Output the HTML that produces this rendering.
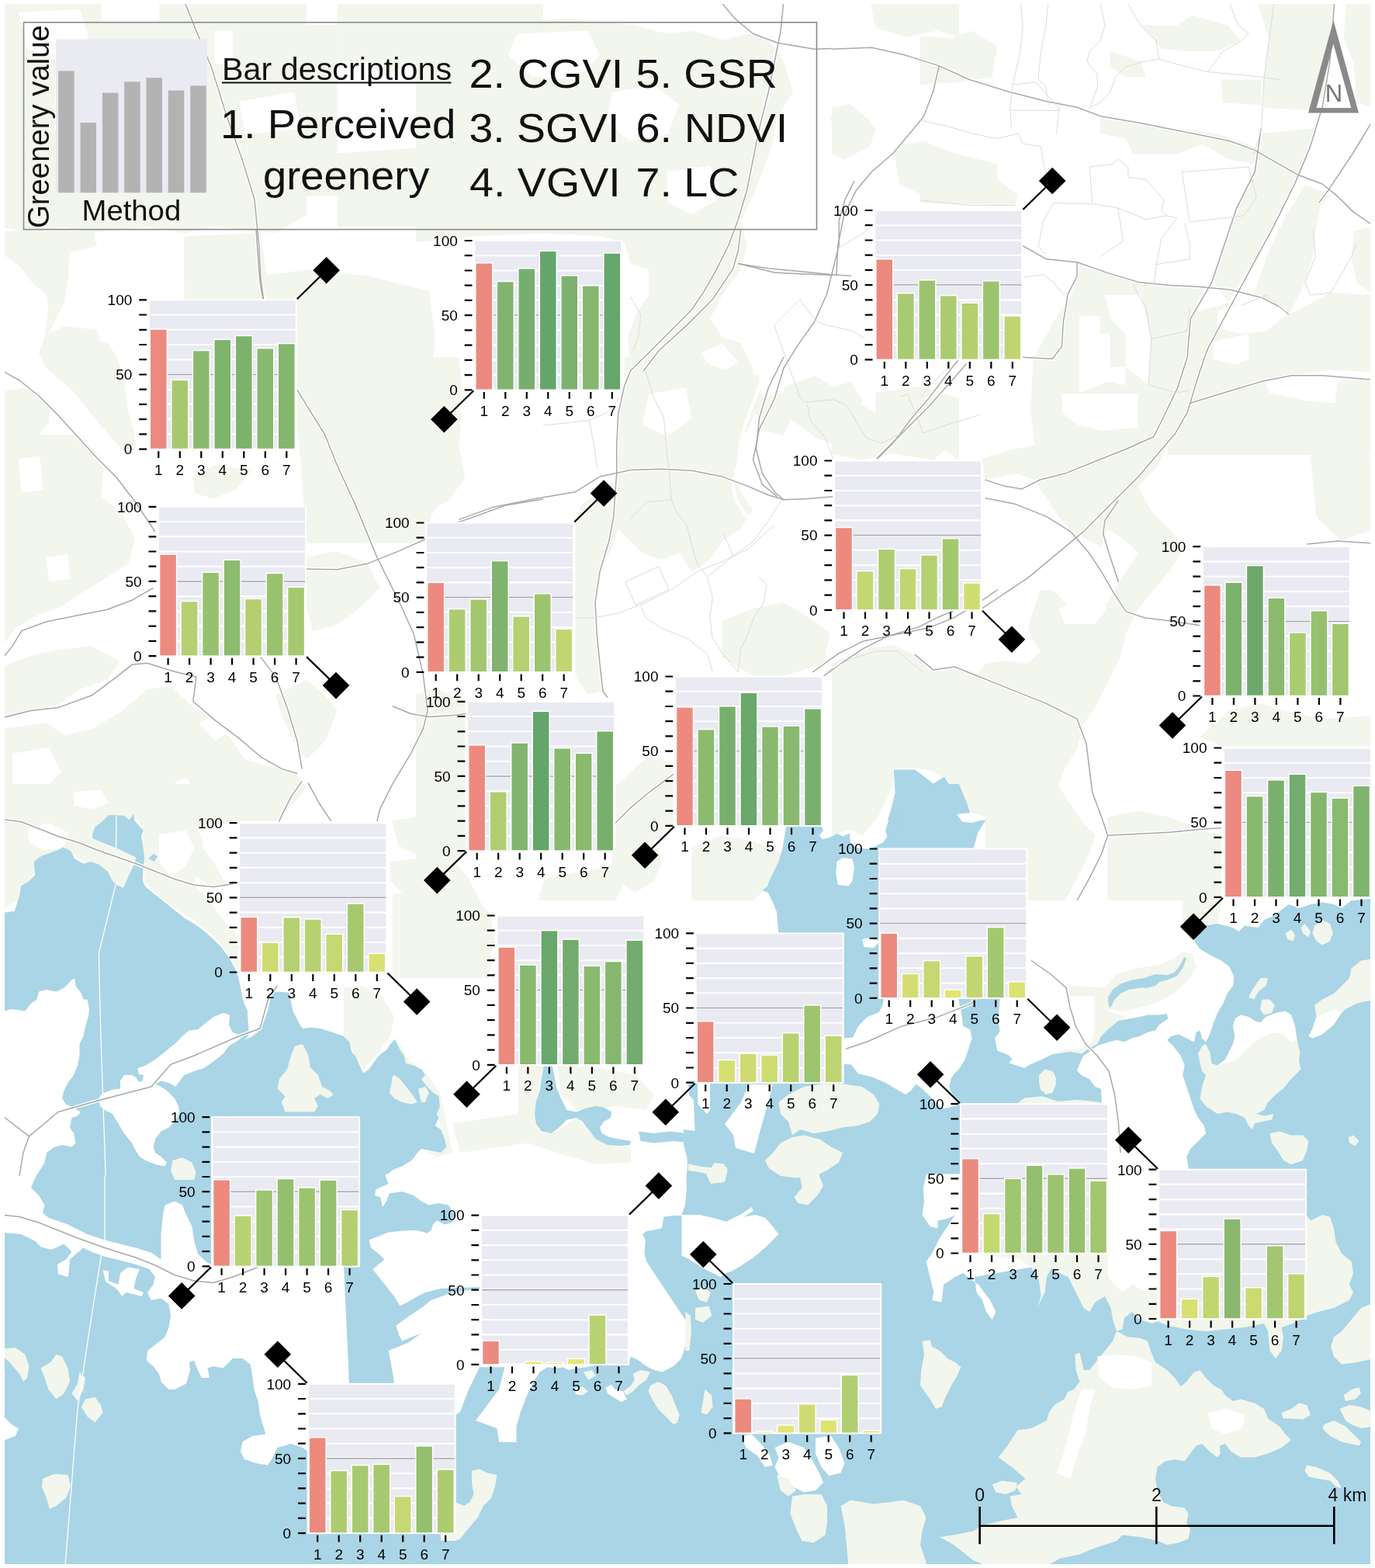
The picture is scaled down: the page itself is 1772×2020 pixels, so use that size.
<!DOCTYPE html>
<html lang="en"><head><meta charset="utf-8"><title>Greenery values by method across Helsinki</title>
<style>html,body{margin:0;padding:0;background:#fff}body{width:1772px;height:2020px;overflow:hidden}svg{display:block}.t text{font-family:"Liberation Sans",Arial,Helvetica,sans-serif;font-size:19px;fill:#000}.l{font-family:"Liberation Sans",Arial,Helvetica,sans-serif;fill:#111}.l2{font-family:"Liberation Sans",Arial,Helvetica,sans-serif}</style></head><body>
<svg xmlns="http://www.w3.org/2000/svg" width="1772" height="2020" viewBox="0 0 1772 2020">
<defs><clipPath id="mc"><rect x="6" y="5" width="1760" height="2010"/></clipPath></defs>
<rect width="1772" height="2020" fill="#fff"/>
<g clip-path="url(#mc)">
<rect x="6" y="5" width="1760" height="2010" fill="#fff"/>
<path d="M0 0L130.4 0L130.4 27.7L205.4 27.7L205.4 0L395 0L395 31.6L434.5 31.6L434.5 252.8L395 252.8L395 276.5L355.5 300.2L276.5 292.3L237 300.2L189.6 292.3L118.5 300.2L79 292.3L39.5 300.2L0 292.3Z" fill="#f2f6ec"/>
<path d="M71.1 98.8L130.4 98.8L130.4 165.9L71.1 165.9Z" fill="#ffffff"/>
<path d="M276.5 39.5L300.2 39.5L300.2 83L276.5 83Z" fill="#ffffff"/>
<path d="M308.1 130.4L379.2 118.5L387.1 165.9L316 173.8Z" fill="#ffffff"/>
<path d="M23.7 15.8L102.7 11.9L114.6 47.4L79 79L35.6 63.2Z" fill="#ffffff"/>
<path d="M434.5 0L700 0L700 79L632.1 86.9L553.1 71.1L493.8 98.8L474 79L434.5 79Z" fill="#f2f6ec"/>
<path d="M592.6 118.5L700 110.6L700 276.5L632.1 292.3L592.6 237Z" fill="#f2f6ec"/>
<path d="M434.5 197.5L553.1 189.6L572.8 237L553.1 292.3L434.5 292.3Z" fill="#f2f6ec"/>
<path d="M237 304.2L335.8 300.2L343.7 355.5L335.8 434.5L339.7 513.5L276.5 513.5L244.9 434.5L237 355.5Z" fill="#f2f6ec"/>
<path d="M335.8 355.5L395 347.6L474 355.5L553.1 375.3L561 434.5L553.1 513.5L561 592.6L553.1 700L395 700L387.1 592.6L379.2 513.5L343.7 513.5Z" fill="#f2f6ec"/>
<path d="M0 297.5L120 297.5L125 317.5L90 325L87.5 362.5L82.5 390L70 415L62.5 430L82.5 420L125 425L130 440L140 442.5L150 460L160 487.5L165 530L172.5 555L175 577.5L165 587.5L140 560L115 530L95 505L75 487.5L60 475L50 455L57.5 435L62.5 395L60 380L40 362.5L25 342.5L0 325Z" fill="#f2f6ec"/>
<path d="M0 505L30 500L50 505L65 525L62.5 545L52.5 555L50 580L65 592.5L75 612.5L82.5 630L75 650L50 655L25 650L0 655Z" fill="#f2f6ec"/>
<path d="M0 670L25 680L50 690L70 705L75 730L65 755L45 767.5L25 755L0 742.5Z" fill="#f2f6ec"/>
<path d="M385 405L443 400L443 505L425 492.5L400 497.5L385 480Z" fill="#f2f6ec"/>
<path d="M237.5 350L265 345L325 375L365 370L380 385L375 387.5L237.5 387.5Z" fill="#f2f6ec"/>
<path d="M250 612.5L275 600L325 605L305 630L275 642.5L250 635Z" fill="#f2f6ec"/>
<path d="M95 630L125 625L130 640L100 647.5Z" fill="#f2f6ec"/>
<path d="M536 39.5L559.7 31.6L595.3 43.5L626.9 35.6L666.4 27.7L733.5 23.7L812.5 31.6L859.9 43.5L891.5 39.5L931 51.4L966.6 43.5L990.3 51.4L1010 79L1021.9 118.5L1002.1 150.1L994.2 189.6L982.4 221.2L970.5 252.8L954.7 284.4L962.6 316L954.7 347.6L931 379.2L915.2 410.8L931 434.5L954.7 442.4L970.5 474L966.6 513.5L954.7 553.1L931 584.7L899.4 592.6L891.5 561L875.7 525.4L852 509.6L828.3 485.9L812.5 466.1L808.6 434.5L820.4 402.9L836.2 379.2L836.2 347.6L812.5 339.7L804.6 312.1L773 304.2L694 300.2L615 304.2L536 312.1Z" fill="#f2f6ec"/>
<path d="M903.4 454.3L931 442.4L950.8 466.1L923.1 485.9Z" fill="#ffffff"/>
<path d="M666.4 43.5L757.2 39.5L773 71.1L741.4 102.7L686.1 98.8L654.5 71.1Z" fill="#ffffff"/>
<path d="M788.8 118.5L844.1 110.6L875.7 134.3L859.9 173.8L812.5 181.7L780.9 158Z" fill="#ffffff"/>
<path d="M859.9 221.2L915.2 213.3L931 252.8L891.5 276.5L859.9 260.7Z" fill="#ffffff"/>
<path d="M1120.7 0L1236 0L1236 47.4L1207.6 39.5L1168.1 47.4L1128.6 35.6Z" fill="#f2f6ec"/>
<path d="M1069.3 150.1L1108.8 146.2L1128.6 165.9L1120.7 189.6L1081.2 185.7Z" fill="#f2f6ec"/>
<path d="M536 513.5L575.5 509.6L595.3 533.3L591.3 572.8L599.2 616.3L575.5 647.9L536 655.8Z" fill="#f2f6ec"/>
<path d="M970.5 513.5L1010 505.6L1021.9 533.3L1010 561L978.4 553.1Z" fill="#f2f6ec"/>
<path d="M1128.6 505.6L1187.8 497.7L1236 513.5L1236 592.6L1207.6 572.8L1168.1 584.7L1128.6 553.1Z" fill="#f2f6ec"/>
<path d="M1151 189.6L1190.5 181.7L1230 197.5L1277.4 209.4L1285.3 237L1269.5 252.8L1230 244.9L1190.5 252.8L1158.9 237Z" fill="#f2f6ec"/>
<path d="M1072 138.3L1095.7 134.3L1123.4 158L1119.4 189.6L1087.8 205.4L1072 197.5Z" fill="#f2f6ec"/>
<path d="M1072 513.5L1111.5 521.5L1151 545.2L1202.4 553.1L1230 568.9L1202.4 592.6L1151 584.7L1111.5 592.6L1072 584.7Z" fill="#f2f6ec"/>
<path d="M1186 46.3L1225.7 49.6L1252.1 39.7L1285.2 59.5L1278.6 99.2L1235.6 105.8L1186 109.1Z" fill="#f2f6ec"/>
<path d="M1186 211.6L1235.6 205L1285.2 211.6L1285.2 231.5L1311.7 251.3L1308.4 264.6L1186 261.3Z" fill="#f2f6ec"/>
<path d="M1430.7 66.1L1470.4 79.4L1477 99.2L1450.6 99.2L1430.7 86Z" fill="#f2f6ec"/>
<path d="M1470.4 33.1L1516.7 33.1L1536.5 19.8L1582.8 33.1L1599.4 52.9L1566.3 66.1L1533.2 66.1L1496.9 62.8L1483.6 46.3Z" fill="#f2f6ec"/>
<path d="M1619.2 0L1718.4 0L1715.1 66.1L1708.5 115.7L1695.3 142.2L1629.1 138.9L1629.1 99.2L1635.8 49.6Z" fill="#f2f6ec"/>
<path d="M1572.9 102.5L1625.8 102.5L1625.8 135.6L1576.2 132.3Z" fill="#f2f6ec"/>
<path d="M1417.5 148.8L1450.6 155.4L1516.7 165.3L1566.3 172L1599.4 181.9L1625.8 195.1L1615.9 211.6L1582.8 205L1549.8 185.2L1516.7 198.4L1460.5 198.4L1450.6 178.6L1417.5 172Z" fill="#f2f6ec"/>
<path d="M1735 0L1772 0L1772 138.9L1748.2 132.3L1744.9 82.7L1731.7 49.6Z" fill="#f2f6ec"/>
<path d="M1625.8 172L1695.3 165.3L1678.7 211.6L1658.9 257.9L1632.4 304.2L1606 350.5L1582.8 390.2L1559.7 357.2L1572.9 327.4L1592.8 274.5L1609.3 238.1L1619.2 198.4Z" fill="#f2f6ec"/>
<path d="M1682 238.1L1715.1 251.3L1701.9 264.6L1695.3 297.6L1692 330.7L1682 363.8L1662.2 403.5L1642.4 390.2L1615.9 380.3L1632.4 330.7L1655.6 281.1Z" fill="#f2f6ec"/>
<path d="M1384.4 340.6L1417.5 350.5L1450.6 360.5L1516.7 365.4L1556.4 367.1L1546.5 380.3L1536.5 403.5L1533.2 463L1529.9 496L1516.7 529.1L1503.5 562.2L1496.9 586L1334.8 586L1328.2 529.1L1331.5 463L1358 413.4L1381.1 380.3L1387.7 350.5Z" fill="#f2f6ec"/>
<path d="M1391 406.8L1417.5 406.8L1417.5 429.9L1430.7 429.9L1430.7 472.9L1450.6 472.9L1450.6 529.1L1424.1 535.7L1391 529.1Z" fill="#ffffff"/>
<path d="M1424.1 380.3L1470.4 380.3L1483.6 436.5L1480.3 496L1450.6 472.9L1450.6 429.9L1430.7 410.1Z" fill="#ffffff"/>
<path d="M1536.5 403.5L1582.8 390.2L1662.2 405.1L1715.1 377L1772 380.3L1772 479.5L1715.1 476.2L1629.1 489.4L1635.8 506L1682 515.9L1748.2 522.5L1772 529.1L1772 586L1503.5 586L1516.7 529.1L1529.9 496L1533.2 429.9Z" fill="#f2f6ec"/>
<path d="M1563 439.8L1609.3 429.9L1609.3 463L1592.8 469.6L1563 463Z" fill="#ffffff"/>
<path d="M1569.6 400.1L1632.4 385.3L1658.9 405.1L1632.4 426.6L1599.4 429.9L1569.6 423.3Z" fill="#ffffff"/>
<path d="M1744.9 297.6L1772 291L1772 380.3L1748.2 363.8L1741.6 330.7Z" fill="#f2f6ec"/>
<path d="M0 560L102.7 560L134.3 595.6L130.4 639L158 662.7L173.8 694.3L165.9 725.9L134.3 745.7L102.7 765.4L79 781.2L47.4 793.1L19.8 808.9L0 836.5Z" fill="#f2f6ec"/>
<path d="M23.7 591.6L51.4 587.7L55.3 631.1L27.7 635.1Z" fill="#ffffff"/>
<path d="M59.3 718L86.9 714.1L90.9 745.7L63.2 749.6Z" fill="#ffffff"/>
<path d="M0 860.2L39.5 844.4L79 836.5L118.5 832.6L154.1 852.3L138.3 876L102.7 887.9L75.1 907.6L47.4 915.5L0 923.4Z" fill="#f2f6ec"/>
<path d="M0 939.2L59.3 931.3L83 947.1L118.5 939.2L158 915.5L189.6 887.9L221.2 883.9L244.9 907.6L276.5 927.4L300.2 955L316 978.7L343.7 986.6L379.2 994.5L395 1014.3L379.2 1034L355.5 1057.7L308.1 1057.7L276.5 1065.6L237 1073.5L205.4 1057.7L185.7 1049.8L173.8 1057.7L150.1 1049.8L130.4 1057.7L118.5 1073.5L94.8 1089.4L79 1093.3L51.4 1109.1L39.5 1132.8L19.8 1152.6L0 1168.4Z" fill="#f2f6ec"/>
<path d="M225.2 1006.4L241 1002.4L248.9 1018.2L233.1 1026.1Z" fill="#ffffff"/>
<path d="M256.8 931.3L284.4 915.5L300.2 939.2L276.5 955Z" fill="#ffffff"/>
<path d="M15.8 970.8L63.2 962.9L79 994.5L47.4 1026.1L15.8 1018.2Z" fill="#ffffff"/>
<path d="M355.5 895.8L395 876L418.7 895.8L434.5 915.5L418.7 955L395 978.7L379.2 955L363.4 923.4Z" fill="#f2f6ec"/>
<path d="M395 718L434.5 710.1L474 725.9L489.8 757.5L466.1 781.2L434.5 804.9L402.9 812.8L395 781.2Z" fill="#f2f6ec"/>
<path d="M505.6 1057.7L553.1 1049.8L600.5 1053.8L600.5 1097.3L580.7 1113.1L545.2 1105.2L513.5 1089.4Z" fill="#f2f6ec"/>
<path d="M505.6 1152.6L553.1 1144.7L608.4 1152.6L632.1 1176.3L632.1 1260L505.6 1260Z" fill="#f2f6ec"/>
<path d="M410.8 560L493.8 560L513.5 599.5L493.8 639L434.5 646.9L395 623.2Z" fill="#f2f6ec"/>
<path d="M197.5 1073.5L252.8 1081.5L276.5 1113.1L292.3 1140.7L276.5 1144.7L252.8 1128.9L221.2 1113.1L197.5 1105.2Z" fill="#f2f6ec"/>
<path d="M804.6 460L891.5 460L931 475.8L978.4 483.7L982.4 515.3L970.5 539L954.7 570.6L946.8 610.1L954.7 633.8L970.5 657.5L954.7 681.2L931 697L915.2 720.7L891.5 736.5L875.7 712.8L852 720.7L828.3 712.8L812.5 697L796.7 681.2L788.8 704.9L773 736.5L765.1 776L769.1 815.5L773 855L777 890.6L757.2 894.5L741.4 870.8L741.4 776L741.4 673.3L749.3 649.6L773 633.8L792.8 618L796.7 578.5L796.7 539L804.6 499.5Z" fill="#f2f6ec"/>
<path d="M836.2 507.4L883.6 499.5L891.5 539L859.9 562.7L828.3 546.9Z" fill="#ffffff"/>
<path d="M536 460L591.3 460L595.3 499.5L587.4 554.8L567.6 590.4L567.6 649.6L547.9 673.3L536 673.3Z" fill="#f2f6ec"/>
<path d="M1010 499.5L1049.5 483.7L1089.1 507.4L1128.6 539L1120.7 570.6L1089.1 578.5L1049.5 562.7L1017.9 539Z" fill="#f2f6ec"/>
<path d="M931 799.7L970.5 783.9L1010 776L1049.5 799.7L1069.3 815.5L1061.4 855L1010 870.8L970.5 870.8L931 847.1Z" fill="#f2f6ec"/>
<path d="M536 894.5L559.7 886.6L599.2 902.4L599.2 1052.6L575.5 1076.3L551.8 1100L536 1111.8Z" fill="#f2f6ec"/>
<path d="M792.8 1013.1L836.2 973.5L867.8 985.4L867.8 1060.5L836.2 1092.1L812.5 1123.7L792.8 1160L694 1160L701.9 1131.6L788.8 1115.8Z" fill="#f2f6ec"/>
<path d="M891.5 1092.1L931 1076.3L970.5 1084.2L1010 1100L1002.1 1131.6L970.5 1160L891.5 1160Z" fill="#f2f6ec"/>
<path d="M1072 855L1111.5 835.3L1151 831.3L1178.7 843.2L1202.4 862.9L1230 859L1261.6 866.9L1269.5 855L1293.2 851.1L1324.8 855L1332.7 831.3L1324.8 807.6L1332.7 783.9L1340.6 760.2L1356.4 760.2L1372.2 776L1380.1 799.7L1411.7 791.8L1427.5 776L1435.4 760.2L1451.2 736.5L1467 712.8L1451.2 697L1427.5 681.2L1419.6 704.9L1388 689.1L1364.3 665.4L1348.5 641.7L1332.7 618L1309 610.1L1269.5 618L1265.6 590.4L1309 578.5L1348.5 570.6L1372.2 539L1388 507.4L1427.5 491.6L1467 499.5L1506.5 483.7L1526.3 507.4L1530.2 539L1506.5 570.6L1490.7 602.2L1467 625.9L1482.8 657.5L1506.5 681.2L1526.3 704.9L1506.5 736.5L1486.8 760.2L1467 783.9L1451.2 815.5L1443.3 847.1L1427.5 878.7L1411.7 910.3L1395.9 934L1388 965.6L1372.2 989.4L1364.3 1013.1L1380.1 1036.8L1395.9 1060.5L1411.7 1076.3L1403.8 1100L1388 1131.6L1372.2 1160L1277.4 1160L1269.5 1092.1L1269.5 1052.6L1245.8 1044.7L1230 1028.9L1222.1 1005.2L1202.4 993.3L1178.7 989.4L1151 989.4L1151 1013.1L1131.3 1052.6L1111.5 1076.3L1095.7 1068.4L1072 1076.3Z" fill="#f2f6ec"/>
<path d="M1305.1 748.4L1320.9 748.4L1320.9 807.6L1340.6 839.2L1324.8 855L1293.2 851.1L1261.6 855L1265.6 831.3L1293.2 815.5Z" fill="#ffffff"/>
<path d="M1364.3 783.9L1411.7 768.1L1427.5 783.9L1411.7 803.7L1372.2 803.7Z" fill="#ffffff"/>
<path d="M1368.3 507.4L1467 507.4L1467 550.9L1419.6 554.8L1388 546.9L1368.3 531.1Z" fill="#ffffff"/>
<path d="M1585.5 914.3L1625.1 906.4L1664.6 918.2L1704.1 926.1L1772 922.2L1772 961.7L1577.6 961.7L1546 949.8Z" fill="#f2f6ec"/>
<path d="M1427.5 1052.6L1467 1044.7L1506.5 1052.6L1546 1068.4L1573.7 1076.3L1573.7 1160L1427.5 1160Z" fill="#f2f6ec"/>
<path d="M1072 499.5L1095.7 491.6L1111.5 515.3L1103.6 539L1072 546.9Z" fill="#f2f6ec"/>
<path d="M1723.8 491.6L1772 483.7L1772 539L1743.6 546.9L1719.9 523.2Z" fill="#f2f6ec"/>
<path d="M1546 483.7L1585.5 475.8L1625.1 491.6L1633 519.3L1605.3 539L1565.8 531.1Z" fill="#f2f6ec"/>
<path d="M1688.3 578.5L1743.6 570.6L1772 594.3L1772 681.2L1727.8 697L1696.2 665.4Z" fill="#f2f6ec"/>
<path d="M0 1010L310 1010L310 1055L250 1060L262.5 1085L255 1115L250 1140L270 1160L287.5 1185L310 1210L310 1255L300 1235L275 1205L250 1185L225 1170L200 1150L186.2 1135L186.2 1105L185 1070L172.5 1047.5L140 1047.5L120 1075L150 1092.5L175 1105L165 1130L157.5 1145L145 1135L138.8 1120L107.5 1110L81.2 1090L53.8 1100L42.5 1110L42.5 1127.5L25 1140L22.5 1160L0 1175L0 1175Z" fill="#f2f6ec"/>
<path d="M35 1067.5L62.5 1060L87.5 1072.5L82.5 1092.5L55 1095L37.5 1085Z" fill="#ffffff"/>
<path d="M205 1075L240 1070L250 1092.5L240 1115L220 1130L205 1110Z" fill="#ffffff"/>
<path d="M95 1020L130 1017.5L140 1035L117.5 1042.5L95 1037.5Z" fill="#ffffff"/>
<path d="M503 1110L543 1105L583 1107.5L603 1130L618 1160L633 1185L638 1215L628 1235L603 1250L583 1260L563 1255L548 1235L543 1210L548 1185L543 1160L518 1150L503 1135Z" fill="#f2f6ec"/>
<path d="M443 1272.5L468 1270L493 1285L508 1310L503 1335L488 1355L468 1377.5L458 1360L450.5 1342.5L443 1335Z" fill="#f2f6ec"/>
<path d="M793 1085L818 1075L843 1085L853 1110L843 1135L818 1150L798 1135L793 1110Z" fill="#f2f6ec"/>
<path d="M668 1372.5L700.5 1370L698 1390L690.5 1420L689.2 1447.5L698 1460L718 1457.5L743 1440L768 1467.5L793 1477.5L813 1477.5L813 1497.5L768 1500L718 1485L680.5 1472.5L668 1435Z" fill="#f2f6ec"/>
<path d="M583 1447.5L668 1435L680.5 1472.5L593 1485Z" fill="#f2f6ec"/>
<path d="M718 1372.5L768 1375L818 1385L843 1410L833 1430L793 1425L743 1430L723 1410Z" fill="#f2f6ec"/>
<path d="M513 1340L525.5 1365L548 1380L568 1410L578 1460L583 1485L563 1490L548 1485L573 1480L568 1455L560.5 1415L543 1390L518 1365Z" fill="#f2f6ec"/>
<path d="M1424 1300L1424 1272.5L1439 1255L1464 1247.5L1494 1242.5L1514 1235L1524 1225L1536.5 1230L1541.5 1245L1534 1260L1519 1275L1504 1285L1489 1292.5L1469 1297.5L1449 1302.5Z" fill="#f2f6ec"/>
<path d="M1379 1270L1424 1272.5L1424 1300L1434 1305L1454 1310L1441.5 1315L1429 1325L1419 1335L1414 1345L1404 1350L1394 1357.5L1379 1355L1361.5 1357.5L1344 1360L1329 1362.5L1329 1335L1354 1330L1374 1310Z" fill="#f2f6ec"/>
<path d="M1524 1160L1574 1160L1569 1190L1554 1192.5L1544 1200L1539 1212.5L1529 1205L1524 1185Z" fill="#f2f6ec"/>
<path d="M954.6 339.5L961.3 366L964.6 389.1L974.5 412.3L981.1 435.4L984.4 465.2L981.1 491.6L971.2 518.1L961.3 544.6L954.6 571L951.3 597.5L944.7 623.9L948 643.8L961.3 663.6L984.4 676.8L1007.5 690.1L1030.7 709.9" fill="none" stroke="#ffffff" stroke-width="4.2" stroke-linejoin="round"/>
<path d="M0 1514L1772 1514L1772 2020L0 2020Z" fill="#a9d5e6"/>
<path d="M0 1176.2L0 1176.2L18.8 1173.8L23.8 1157.5L27.5 1141.2L37.5 1135L45 1127.5L43.8 1110L53.8 1102.5L75 1095L81.2 1091.2L91.2 1096.2L96.2 1106.2L107.5 1112.5L117.5 1110L127.5 1113.8L138.8 1122.5L145 1135L150 1140L158.8 1143.8L166.2 1127.5L173.8 1111.2L175 1104.5L150 1092.5L120 1080.5L118.8 1075.5L122.5 1065.5L132.5 1057.5L140 1050L160 1050.8L166.2 1056.2L172.5 1048.8L173 1057L185 1070L182 1077L184.5 1090L186.2 1106.2L184.5 1120L183.8 1135L187.5 1142.5L200 1152.5L212.5 1162.5L225 1172.5L237.5 1182.5L250 1190L262.5 1198.8L275 1210L285 1220L292.5 1230L298.8 1240L303.8 1250L307.5 1260L310 1272.5L312.5 1285L315.5 1295L318.8 1301.2L320 1321.2L321.2 1332.5L315 1340L325 1335L335 1327.5L342.5 1310L347.5 1292.5L350 1278.8L360 1277.5L372.5 1278.8L375 1290L377.5 1302.5L385 1317.5L390 1325L400 1323.8L412.5 1325L425 1328.8L443 1335L443 1515L0 1515Z" fill="#a9d5e6"/>
<path d="M191.2 1106.2L197.5 1100L203 1103L198.8 1110Z" fill="#a9d5e6"/>
<path d="M443 1335L450.5 1342.5L453 1355L458 1360L468 1382.5L475.5 1377.5L488 1360L498 1352.5L503 1345L509.2 1338.8L515.5 1352.5L520.5 1360L523 1370L533 1372.5L543 1377.5L548 1385L543 1390L550.5 1400L558 1407.5L565.5 1412.5L566.8 1425L563 1435L565.5 1440L560.5 1450L568 1455L573 1467.5L575.5 1477.5L568 1485L555.5 1482.5L543 1480L538 1485L530.5 1495L518 1502.5L505.5 1507.5L496.8 1515L443 1515Z" fill="#a9d5e6"/>
<path d="M700.5 1373.8L711.8 1373.8L714.2 1385L716.8 1400L723 1415L730.5 1430L743 1432.5L755.5 1427.5L768 1425L778 1426.2L788 1432.5L786.8 1440L778 1445L773 1452.5L775.5 1460L785.5 1465L798 1467.5L813 1470L811.8 1475L798 1476.2L783 1475L768 1467.5L758 1455L750.5 1445L743 1440L730.5 1442.5L720.5 1452.5L710.5 1460L698 1457.5L690.5 1447.5L689.2 1435L690.5 1420L695.5 1405L698 1390Z" fill="#a9d5e6"/>
<path d="M823 1457.5L843 1460L863 1457.5L886 1460L893 1462.5L893 1472.5L868 1470L843 1472.5L825.5 1470Z" fill="#a9d5e6"/>
<path d="M900 1390L887 1397L888 1411L894 1417L895.5 1457L881 1455L881 1475L882 1478L885.5 1492L886 1504L884 1517.5L1329 1517.5L1329 1335L1321 1285L1311 1160L1254.8 1093.8L1256 1080L1261 1067.5L1269.8 1056.2L1261 1057.5L1248.5 1061.2L1238.5 1060L1231 1051.2L1236 1047.5L1249.8 1047.5L1247.2 1037.5L1241 1022.5L1236 1010L1153.5 1010L1154.8 1025L1151 1042.5L1144.8 1057.5L1141 1070L1143.5 1077.5L1138.5 1085L1121 1093.8L1103.5 1092.5L1096 1085L1094.8 1073.8L1086 1077.5L1078.5 1073.8L1069.8 1078.8L1059.8 1081.2L1056 1076.2L1061 1070L1058.5 1063.8L1013.5 1063.8L1008.5 1092.5L1003.5 1110L993.5 1130L988.5 1142.5L982.2 1147L989.8 1150L996 1162.5L1001 1175L1002.2 1190L1003.5 1202.5L1003.5 1385L901 1385Z" fill="#a9d5e6"/>
<path d="M1151.6 991.6L1179.2 991.6L1195 1003.4L1202.9 1009.4L1216.8 1000.7L1226.6 1015.3L1236.5 1033.1L1246.4 1046.9L1232.6 1048.9L1240.5 1058.8L1258.2 1060.7L1270.1 1056.8L1260.2 1072.6L1254.3 1094.3L1195 1100.2L1131.8 1094.3L1139.7 1084.4L1153.6 1072.6L1163.4 1048.9L1143.7 1056.8L1147.6 1044.9L1153.6 1021.2Z" fill="#a9d5e6"/>
<path d="M1772 1157.5L1741.5 1160L1729 1170L1719 1165L1704 1162.5L1689 1165L1674 1170L1661.5 1165L1654 1170L1641.5 1180L1629 1185L1621.5 1195L1604 1192.5L1596.5 1200L1589 1195L1579 1192.5L1569 1190L1554 1192.5L1544 1200L1539 1212.5L1546.5 1222.5L1559 1230L1574 1237.5L1584 1245L1590.2 1257.5L1589 1270L1581.5 1280L1576.5 1292.5L1569 1305L1564 1317.5L1559 1332.5L1554 1342.5L1549 1337.5L1546.5 1327.5L1541.5 1330L1539 1342.5L1529 1337.5L1519 1332.5L1509 1335L1504 1340L1511.5 1347.5L1521.5 1360L1526.5 1372.5L1524 1385L1529 1400L1534 1415L1539 1430L1544 1440L1551.5 1450L1554 1460L1549 1465L1541.5 1472.5L1534 1480L1529 1490L1531.5 1505L1536.5 1515L1772 1515Z" fill="#a9d5e6"/>
<path d="M1321.5 1335L1329 1362.5L1344 1360L1361.5 1357.5L1379 1355L1394 1357.5L1404 1350L1414 1345L1419 1335L1429 1325L1441.5 1315L1454 1312.5L1469 1310L1479 1307.5L1491.5 1307.5L1504 1306.2L1505.2 1312.5L1494 1320L1489 1327.5L1479 1330L1469 1335L1459 1337.5L1449 1342.5L1439 1340L1429 1342.5L1414 1347.5L1404 1355L1396.5 1360L1391.5 1370L1389 1380L1394 1385L1404 1390L1411.5 1400L1419 1402.5L1420.2 1422.5L1420.2 1515L1321.5 1515Z" fill="#a9d5e6"/>
<path d="M1429 1297.5L1427.8 1285L1434 1275L1444 1267.5L1459 1262.5L1474 1260L1489 1255L1504 1256.2L1514 1252.5L1521.5 1242.5L1526.5 1232.5L1529 1235L1524 1247.5L1516.5 1257.5L1504 1262.5L1494 1265L1489 1270L1479 1272.5L1469 1272.5L1454 1275L1444 1280L1436.5 1287.5L1431.5 1297.5Z" fill="#a9d5e6"/>
<path d="M296.2 1307.5L287.5 1305L275 1310L262.5 1320L255 1326.2L243.8 1327.5L235 1335L225 1345L212.5 1355L200 1365L187.5 1372.5L177.5 1376.2L178.8 1383.8L185 1385L183.8 1392.5L200 1396.2L207.5 1392.5L217.5 1395L226.2 1400L237.5 1385L250 1380L262.5 1376.2L275 1367.5L287.5 1357.5L295 1347.5L307.5 1340L312.5 1335L306.2 1332.5L300 1330L295 1320Z" fill="#ffffff"/>
<path d="M130 1410L135 1407.5L145 1403.8L155 1402.5L155 1392.5L160 1385L170 1385L175 1387.5L178.8 1393.8L183.8 1392.5L200 1396.2L207.5 1400L215 1405L225 1415L230 1425L231.2 1435L225 1445L217.5 1452.5L207.5 1457.5L200 1467.5L197.5 1477.5L200 1485L207.5 1490L215 1497.5L212.5 1502.5L200 1500L187.5 1495L180 1490L175 1482.5L170 1472.5L160 1460L152.5 1447.5L145 1435L135 1430L128.8 1425L127.5 1415Z" fill="#ffffff"/>
<path d="M222.5 1495L235 1491.2L247.5 1497.5L252.5 1510L250 1520L225 1520L220 1507.5Z" fill="#f2f6ec"/>
<path d="M390 1345L397.5 1360L400 1375L410 1385L415 1400L425 1405L430 1410L422.5 1415L412.5 1410L405 1415L410 1425L405 1432.5L390 1432.5L367.5 1432.5L362.5 1420L367.5 1412.5L357.5 1402.5L360 1390L370 1377.5L375 1360L380 1347.5Z" fill="#f2f6ec"/>
<path d="M0 1303.8L0 1303.8L15 1300L25 1301.2L32.5 1302.5L40 1292.5L47.5 1287.5L50 1277.5L60 1275L72.5 1277.5L82.5 1272.5L92.5 1262.5L96.2 1260L97.5 1270L105 1280L107.5 1287.5L112.5 1287.5L115 1300L113.8 1310L110 1322.5L107.5 1335L102.5 1345L102.5 1360L100 1372.5L95 1385L87.5 1395L82.5 1405L80 1415L85 1422.5L95 1427.5L103.8 1432.5L100 1437.5L92.5 1440L90 1452.5L95 1460L97.5 1472.5L92.5 1477.5L80 1475L70 1477.5L60 1485L57.5 1497.5L50 1510L46.2 1515L46.2 1517.5L0 1517.5Z" fill="#ffffff"/>
<path d="M150 1051.2L149.5 1092.5" fill="none" stroke="#ffffff" stroke-width="1.3" stroke-linejoin="round"/>
<path d="M149 1140L127.5 1227.5L128 1260L130 1335L132.5 1410L136.2 1515" fill="none" stroke="#ffffff" stroke-width="1.3" stroke-linejoin="round"/>
<path d="M508 1385L515.5 1390L525.5 1402.5L533 1412.5L538 1420L530.5 1422.5L518 1420L508 1415L501.8 1407.5L504.2 1397.5L505.5 1387.5Z" fill="#f2f6ec"/>
<path d="M539.2 1402.5L548 1400L553 1407.5L548 1420L543 1420L540.5 1410Z" fill="#f2f6ec"/>
<path d="M0 1512.5L46.2 1512.5L46.2 1515L40 1530L50 1540L57.5 1552.5L55 1562.5L62.5 1568.8L87.5 1577.5L112.5 1590L135 1597.5L155 1602.5L175 1607.5L195 1613.8L207.5 1622.5L200 1645L192.5 1635L175 1628.8L155 1623.8L135 1618.8L117.5 1612.5L107.5 1607.5L100 1613.8L90 1622.5L88.8 1637.5L87.5 1645L75 1641.2L73.8 1628.8L85 1622.5L92.5 1612.5L82.5 1602.5L66.2 1610L52.5 1606.2L45 1598.8L27.5 1590L0 1587.5L0 1587.5Z" fill="#ffffff"/>
<path d="M132.5 1636.2L140 1637.5L140 1650L152.5 1655L155 1640L165 1632.5L180 1635L175 1647.5L172.5 1660L185 1665L182.5 1670L162.5 1665L157.5 1670L150 1660L136.2 1651.2Z" fill="#ffffff"/>
<path d="M200 1627.5L207.5 1622.5L207.5 1590L210 1565L212.5 1552.5L225 1547.5L235 1552.5L240 1565L247.5 1580L250 1597.5L255 1615L265 1625L273.8 1630L443 1630L450 1782.8L450 1890L397.5 1870L390 1865L375 1860L357.5 1865L350 1880L345 1887.5L330 1885L315 1880L310 1870L312.5 1857.5L325 1850L342.5 1847.5L340 1840L335 1822.5L332.5 1805L327.5 1790L325 1770L322.5 1757.5L312.5 1750L300 1750L287.5 1762.5L275 1760L267.5 1762.5L270 1775L260 1775L255 1765L250 1752.5L243.8 1755L245 1765L240 1782.5L225 1790L217.5 1790L207.5 1780L205 1770L197.5 1760L188.8 1752.5L190 1740L200 1732.5L212.5 1722.5L217.5 1710L220 1695L217.5 1680L207.5 1672.5L195 1675L190 1665L197.5 1655L200 1645Z" fill="#ffffff"/>
<path d="M0 1737.5L20 1736.2L32.5 1745L37.5 1760L35 1775L30 1780L25 1770L12.5 1755L0 1745Z" fill="#f2f6ec"/>
<path d="M52.5 1762.5L65 1755L72.5 1745L80 1747.5L87.5 1762.5L90 1780L82.5 1795L72.5 1802.5L62.5 1790L57.5 1775Z" fill="#f2f6ec"/>
<path d="M102.5 1767.5L110 1775L107.5 1790L100 1805L92.5 1795L100 1782.5Z" fill="#f2f6ec"/>
<path d="M110 1802.5L122.5 1800L130 1810L132.5 1820L122.5 1832.5L112.5 1825L105 1812.5Z" fill="#f2f6ec"/>
<path d="M55 1905L70 1898.8L87.5 1900L91.2 1915L85 1930L72.5 1940L63.8 1943.8L60 1930L53.8 1915Z" fill="#f2f6ec"/>
<path d="M0 1820L0 1820L15 1835L23.8 1840L20 1850L0 1857.5L0 1857.5Z" fill="#ffffff"/>
<path d="M135 1515L135 1597.5L130 1620L115 1715L100 1815L83.8 2020" fill="none" stroke="#ffffff" stroke-width="1.3" stroke-linejoin="round"/>
<path d="M496.8 1512.5L496.8 1515L500.5 1525L484.2 1532.5L483 1540L490.5 1542.5L493 1555L498 1547.5L501.8 1537.5L518 1535L533 1540L543 1547.5L553 1552.5L565.5 1550L578 1552.5L585.5 1565L583 1575L573 1577.5L563 1572.5L558 1577.5L555.5 1585L550.5 1588.8L538 1585L525.5 1585L513 1586.2L500.5 1587.5L488 1592.5L475.5 1597.5L478 1607.5L488 1615L495.5 1622.5L480.5 1635L488 1645L498 1657.5L508 1670L515.5 1682.5L525.5 1677.5L535.5 1671.2L548 1665L568 1660L593 1658.8L618 1658L618 1660L583 1665L555.5 1675L543 1685L528 1695L510.5 1707.5L514.2 1720L518 1727.5L543 1717.5L525.5 1730L500.5 1740L503 1752.5L505.5 1765L508 1782.8L586.8 1782.8L588 1822.5L593 1818.8L603 1792.5L618 1761.2L650.5 1761.2L643 1790L628 1810L613 1830L640.5 1840L643 1857.5L665.5 1858L665.5 1837.5L670.5 1820L678 1800L688 1780L695.5 1767.5L705.5 1761.2L718 1762.5L725.5 1761.2L733 1765L743 1762.5L755.5 1761.2L768 1758.8L793 1758.8L810.5 1755L813 1747.5L823 1752.5L833 1760L843 1765L853 1767.5L868 1760L878 1750L883 1735L886 1727.5L886 1705L883 1700L873 1685L863 1670L853 1655L843 1640L833 1625L830.5 1615L831.8 1597.5L828 1590L833 1586.2L853 1582.5L855.5 1567.5L868 1566L878 1566L883 1552.5L885 1530L884.5 1515L884.5 1512.5Z" fill="#ffffff"/>
<path d="M740.5 1788.8L750.5 1786.2L758 1792.5L750.5 1797.5L741.8 1796.2Z" fill="#f2f6ec"/>
<path d="M751.8 1767.5L763 1765L768 1772.5L758 1777.5Z" fill="#f2f6ec"/>
<path d="M780.5 1787.5L788 1783.8L793 1790L803 1792.5L808 1802.5L800.5 1806.2L790.5 1800L783 1795Z" fill="#ffffff"/>
<path d="M815.5 1770L825.5 1765L838 1767.5L833 1777.5L823 1785L815.5 1792.5L808 1797.5L803 1792.5L813 1785L818 1777.5Z" fill="#f2f6ec"/>
<path d="M838 1785L848 1780L858 1785L865.5 1797.5L870.5 1810L875.5 1822.5L873 1832.5L868 1835L858 1825L848 1815L840.5 1802.5L835.5 1792.5Z" fill="#f2f6ec"/>
<path d="M608 1895L618 1892.5L628 1897.5L640.5 1900L638 1915L633 1930L623 1940L615.5 1955L603 1970L593 1982.5L586.2 1985L568 1985L568 1935L586.2 1935L598 1940L605.5 1935L610.5 1925L608 1910Z" fill="#f2f6ec"/>
<path d="M878.5 1565L901 1565L918.5 1568.8L936 1573.8L956 1563.8L968.5 1555L971 1560L958.5 1567.5L973.5 1565L986 1568.8L996 1580L1003.5 1590L996 1597.5L986 1607.5L971 1620L956 1630L943.5 1637.5L936 1640L928.5 1645L907 1634.2L887 1621.5L878.5 1617.5Z" fill="#ffffff"/>
<path d="M911 1512.5L936 1512.5L936 1515L933.5 1522.5L916 1525L911 1515Z" fill="#f2f6ec"/>
<path d="M1031 1512.5L1056 1512.5L1056 1515L1061 1527.5L1053.5 1540L1041 1552.5L1028.5 1550L1023.5 1542.5L1033.5 1530L1031 1515Z" fill="#f2f6ec"/>
<path d="M896 1662.5L906 1657.5L916 1665L911 1677.5L901 1675Z" fill="#f2f6ec"/>
<path d="M896 1685L913.5 1682.5L917.2 1695L906 1703.8L896 1700Z" fill="#f2f6ec"/>
<path d="M908.5 1790L917.2 1797.5L918.5 1812.5L911 1822.5L903.5 1820L906 1805Z" fill="#f2f6ec"/>
<path d="M883.5 1690L889.8 1695L891 1715L888.5 1740L883.5 1740Z" fill="#f2f6ec"/>
<path d="M956 1850L968.5 1847.5L981 1860L991 1872.5L996 1887.5L986 1890L976 1875L961 1865Z" fill="#ffffff"/>
<path d="M998.5 1865L1016 1857.5L1036 1865L1046 1880L1056 1897.5L1061 1910L1051 1920L1036 1922.5L1021 1915L1006 1905L998.5 1890L1003.5 1877.5Z" fill="#ffffff"/>
<path d="M1051 1852.5L1071 1850L1081 1865L1088.5 1885L1083.5 1897.5L1068.5 1901.2L1058.5 1890L1051 1872.5Z" fill="#ffffff"/>
<path d="M1021 1927.5L1036 1925L1058.5 1925L1066 1940L1066 1960L1063.5 1977.5L1048.5 1987.5L1033.5 1985L1026 1970L1018.5 1950Z" fill="#f2f6ec"/>
<path d="M1001 1900L1016 1905L1026 1920L1016 1927.5L1006 1920Z" fill="#f2f6ec"/>
<path d="M1083.5 1940L1096 1932.5L1111 1935L1126 1937.5L1148.5 1935L1163.5 1932.5L1186 1940L1193.5 1955L1188.5 1972.5L1186 1990L1191 2005L1196 2020L1196 2020L1093.5 2020L1091 1990L1088.5 1965Z" fill="#f2f6ec"/>
<path d="M1188.5 1727.5L1198.5 1726.2L1201 1735L1211 1740L1221 1750L1231 1755L1238.5 1761.2L1233.5 1772.5L1226 1785L1218.5 1800L1213.5 1812.5L1206 1815L1198.5 1802.5L1186 1785L1187.2 1765L1191 1745Z" fill="#f2f6ec"/>
<path d="M1278.5 1912.5L1291 1907.5L1311 1910L1308.5 1920L1296 1925L1283.5 1922.5Z" fill="#f2f6ec"/>
<path d="M1193.5 1512.5L1193.5 1515L1189.8 1530L1191 1547.5L1188.5 1565L1198.5 1580L1208.5 1582.5L1208.5 1572.5L1221 1570L1231 1565L1211 1595L1201 1615L1193.5 1625L1198.5 1645L1203.5 1665L1201 1675L1213.5 1677.5L1216 1655L1231 1645L1241 1640L1253.5 1650L1261 1655L1276 1675L1283.5 1690L1278.5 1700L1271 1690L1266 1675L1258.5 1665L1256 1645L1329 1632.5L1329 1512.5Z" fill="#ffffff"/>
<path d="M1254 1512.5L1254 1615L1314 1622.5L1329 1632.5L1339 1650L1341.5 1670L1336.5 1685L1346.5 1665L1349 1645L1354 1635L1376.5 1645L1386.5 1665L1396.5 1685L1404 1690L1411.5 1677.5L1424 1670L1431.5 1685L1434 1700L1439 1715L1446.5 1712.5L1449 1697.5L1459 1690L1469 1700L1484 1705L1493 1702.5L1504 1707.5L1529 1712.5L1554 1715L1579 1712.5L1604 1710L1629 1705L1634 1715L1636.5 1740L1644 1750L1651.5 1740L1654 1722.5L1651.5 1710L1666.5 1705L1684 1695L1699 1690L1719 1685L1739 1675L1744 1665L1739 1655L1744 1640L1741.5 1625L1729 1615L1721.5 1600L1719 1582.5L1714 1567.5L1704 1565L1689 1572.5L1683 1565L1683 1512.5Z" fill="#f2f6ec"/>
<path d="M1439 1715L1454 1722.5L1469 1723.8L1479 1727.5L1482.8 1740L1489 1755L1504 1765L1514 1775L1521.5 1786.2L1529 1780L1539 1767.5L1546.5 1765L1554 1775L1564 1785L1574 1790L1579 1797.5L1589 1805L1599 1802.5L1616.5 1807.5L1629 1815L1634 1827.5L1649 1837.5L1656.5 1847.5L1664 1855L1651.5 1865L1634 1872.5L1616.5 1877.5L1599 1877.5L1586.5 1870L1579 1860L1571.5 1862.5L1572.8 1872.5L1569 1877.5L1559 1870L1549 1860L1541.5 1862.5L1534 1872.5L1526.5 1882.5L1514 1880L1501.5 1882.5L1491.5 1890L1489 1905L1491.5 1920L1499 1935L1509 1940L1526.5 1942.5L1531.5 1950L1529 1962.5L1534 1970L1531.5 1982.5L1519 1987.5L1504 1990L1491.5 1985L1469 1980L1446.5 1977.5L1439 1985L1424 1990L1409 1995L1391.5 2002.5L1366.5 2007.5L1344 2020L1329 2020L1304 2020L1279 2020L1254 2010L1229 1990L1211 1980L1229 1977.5L1254 1972.5L1266.5 1965L1286.5 1960L1311.5 1955L1304 1940L1301.5 1927.5L1316.5 1925L1309 1915L1321.5 1905L1304 1890L1286.5 1877.5L1296.5 1865L1311.5 1842.5L1329 1840L1339 1835L1349 1830L1351.5 1820L1359 1810L1371.5 1802.5L1376.5 1792.5L1384 1790L1391.5 1780L1386.5 1765L1385.2 1745L1391.5 1742.5L1396.5 1765L1404 1765L1414 1752.5L1424 1740L1434 1727.5Z" fill="#f2f6ec"/>
<path d="M1772 1677.5L1754 1685L1741.5 1700L1729 1715L1719 1722.5L1715.2 1735L1719 1747.5L1729 1757.5L1749 1755L1772 1750Z" fill="#f2f6ec"/>
<path d="M1731.5 1797.5L1741.5 1790L1751.5 1787.5L1754 1795L1746.5 1802.5L1734 1805Z" fill="#f2f6ec"/>
<path d="M1651.5 1820L1664 1815L1674 1807.5L1684 1810L1689 1822.5L1679 1828.8L1664 1827.5L1654 1827.5Z" fill="#f2f6ec"/>
<path d="M1726.5 1815L1739 1810L1754 1812.5L1772 1820L1772 1837.5L1754 1840L1741.5 1835L1734 1830Z" fill="#f2f6ec"/>
<path d="M1706.5 1835L1719 1830L1734 1837.5L1744 1847.5L1754 1857.5L1751.5 1862.5L1729 1857.5L1714 1850L1704 1840Z" fill="#f2f6ec"/>
<path d="M1684 1887.5L1696.5 1890L1714 1897.5L1724 1907.5L1729 1917.5L1721.5 1915L1714 1907.5L1699 1905L1686.5 1902.5L1681.5 1895Z" fill="#f2f6ec"/>
<path d="M1656.5 1302.5L1664 1307.5L1669 1322.5L1671.5 1340L1675.2 1355L1674 1367.5L1676.5 1377.5L1669 1385L1661.5 1392.5L1654 1402.5L1644 1410L1634 1420L1629 1430L1619 1435L1629 1437.5L1641.5 1435L1639 1442.5L1626.5 1445L1616.5 1447.5L1614 1455L1609 1450L1604 1440L1594 1435L1581.5 1432.5L1569 1435L1554 1425L1546.5 1415L1549 1400L1554 1385L1549 1380L1546.5 1370L1544 1357.5L1549 1347.5L1554 1345L1559 1355L1561.5 1370L1569 1372.5L1579 1365L1584 1355L1589 1345L1591.5 1335L1589 1322.5L1591.5 1312.5L1599 1307.5L1609 1310L1616.5 1315L1624 1317.5L1631.5 1310L1644 1305Z" fill="#f2f6ec"/>
<path d="M1656.5 1202.5L1664 1197.5L1669 1205L1666.5 1212.5L1659 1210Z" fill="#f2f6ec"/>
<path d="M1676.5 1195L1681.5 1190L1689 1200L1686.5 1207.5L1679 1202.5Z" fill="#f2f6ec"/>
<path d="M1694 1192.5L1704 1185L1714 1190L1717.8 1202.5L1714 1212.5L1704 1217.5L1696.5 1212.5L1691.5 1202.5Z" fill="#f2f6ec"/>
<path d="M1624 1260L1634 1260L1631.5 1270L1621.5 1277.5L1616.5 1287.5L1609 1285L1614 1275L1619 1267.5Z" fill="#f2f6ec"/>
<path d="M1626.5 1287.5L1636.5 1287.5L1642.8 1295L1639 1305L1629 1307.5L1624 1300Z" fill="#f2f6ec"/>
<path d="M1772 1235L1754 1237.5L1741.5 1247.5L1739 1260L1729 1270L1719 1280L1704 1287.5L1694 1295L1696.5 1310L1691.5 1325L1686.5 1335L1691.5 1337.5L1704 1332.5L1719 1320L1724 1310L1734 1300L1749 1292.5L1772 1287.5Z" fill="#f2f6ec"/>
<path d="M1636.5 1460L1649 1457.5L1664 1462.5L1679 1462.5L1686.5 1470L1684 1482.5L1679 1495L1664 1500L1654 1495L1646.5 1482.5L1639 1472.5Z" fill="#f2f6ec"/>
<path d="M1737.8 1465L1744 1462.5L1751.5 1470L1746.5 1476.2L1739 1472.5Z" fill="#f2f6ec"/>
<path d="M1339 1385L1346.5 1377.5L1356.5 1380L1361.5 1390L1356.5 1400L1351.5 1407.5L1341.5 1405L1339 1395Z" fill="#f2f6ec"/>
<path d="M1389 1380L1391.5 1370L1396.5 1360L1404 1355L1414 1347.5L1429 1342.5L1439 1340L1449 1342.5L1459 1337.5L1469 1335L1479 1330L1489 1327.5L1504 1340L1511.5 1347.5L1521.5 1360L1526.5 1372.5L1524 1385L1529 1400L1534 1415L1539 1430L1544 1440L1551.5 1450L1554 1460L1549 1465L1541.5 1472.5L1534 1480L1529 1490L1531.5 1505L1536.5 1515L1536.5 1520L1420.2 1520L1420.2 1422.5L1419 1402.5L1411.5 1400L1404 1390L1394 1385Z" fill="#ffffff"/>
<path d="M1085.5 1337.7L1099.1 1336.6L1105.9 1321.9L1117.1 1310.6L1132.9 1303.9L1137.5 1294.8L1139.7 1283.5L1234.5 1283.5L1239 1306.1L1241.3 1321.9L1250.3 1326.4L1252.6 1337.7L1248.1 1351.3L1243.6 1364.8L1236.8 1376.1L1230 1382.9L1225.5 1389.6L1223.2 1400.9L1230 1414.5L1236.8 1423.5L1216.5 1428L1207.4 1423.5L1198.4 1412.2L1189.4 1403.2L1180.4 1396.4L1173.6 1405.4L1166.8 1410L1155.5 1403.2L1139.7 1394.2L1123.9 1387.4L1105.9 1382.9L1096.8 1371.6L1085.5 1370.5Z" fill="#ffffff"/>
<path d="M1003.5 1420L1016 1410L1036 1400L1061 1396.2L1086 1396.2L1111 1400L1126 1410L1133.5 1422.5L1131 1435L1121 1445L1106 1450L1086 1452.5L1066 1457.5L1048.5 1460L1031 1455L1021 1462.5L1016 1445L1006 1435Z" fill="#f2f6ec"/>
<path d="M996 1485L1006 1472.5L1021 1465L1036 1462.5L1056 1467.5L1071 1477.5L1086 1485L1081 1497.5L1066 1507.5L1051 1515L1026 1517.5L1006 1515L991 1505L986 1495Z" fill="#f2f6ec"/>
<path d="M934 1448L945 1462L948 1479L972 1486L980 1455L990 1420L996 1397L965 1397L955 1420Z" fill="#ffffff"/>
<path d="M899 1396L915 1396L915 1430L911 1435L899 1422Z" fill="#ffffff"/>
<path d="M886.8 1499.2L904.2 1502.9L916.6 1504.2L920.3 1497.9L932.7 1499.2L937.7 1506.6L936.4 1514.1L929 1515.3L934 1517.8L935.2 1521.5L929 1524L919.1 1521.5L915.3 1514.1L904.2 1510.4L886.8 1507.9Z" fill="#f2f6ec"/>
<path d="M1288.7 1283.5L1286.4 1315.1L1288.7 1328.7L1281.9 1337.7L1285.3 1353.5L1300 1359.2L1304.5 1364.8L1300 1369.3L1320.3 1376.1L1327.1 1371.6L1342.9 1364.8L1356.4 1358L1365.5 1353.5L1388 1351.3L1399.3 1349L1406.1 1344.5L1410.6 1326.4L1410.6 1283.5Z" fill="#ffffff"/>
<path d="M1342.9 1382.9L1349.7 1378.4L1358.7 1382.9L1360.9 1396.4L1356.4 1407.7L1347.4 1410L1340.6 1400.9L1339.5 1391.9Z" fill="#f2f6ec"/>
<path d="M1309 1423.5L1320.3 1414.5L1342.9 1412.2L1363.2 1419L1388 1416.7L1410.6 1419L1421.9 1421.2L1421.9 1450.6L1309 1450.6Z" fill="#f2f6ec"/>
<path d="M1419.6 1421.2L1421.9 1396.4L1410.6 1391.9L1406.1 1382.9L1397.1 1387.4L1388 1378.4L1392.5 1369.3L1406.1 1364.8L1410.6 1355.8L1424.1 1351.3L1444.5 1349L1444.5 1428L1419.6 1428Z" fill="#ffffff"/>
<path d="M1428 1512.5L1493 1512.5L1493 1655L1479 1665L1459 1655L1446.5 1665L1436.5 1655L1428 1645Z" fill="#ffffff"/>
<path d="M1414 1747.5L1439 1745L1464 1747.5L1484 1755L1484 1785L1459 1790L1434 1787.5L1416.5 1775Z" fill="#ffffff"/>
<path d="M1411.5 1790L1404 1815L1399 1847.5L1389 1872.5L1379 1905L1361.5 1897.5L1371.5 1870L1379 1840L1386.5 1810L1394 1790Z" fill="#ffffff"/>
<path d="M1556.5 1820L1579 1815L1604 1822.5L1601.5 1840L1579 1847.5L1561.5 1840Z" fill="#ffffff"/>
<path d="M1591.5 1312.5L1599 1307.5L1609 1310L1616.5 1315L1624 1317.5L1631.5 1310L1644 1305L1656.5 1302.5L1664 1307.5L1669 1322.5L1671.5 1340L1664 1342.5L1654 1332.5L1641.5 1330L1629 1335L1616.5 1342.5L1604 1355L1594 1365L1579 1370L1569 1372.5L1579 1365L1584 1355L1589 1345L1591.5 1335L1589 1322.5Z" fill="#ffffff"/>
<path d="M1696.5 1310L1719 1300L1729 1305L1719 1320L1704 1332.5L1691.5 1337.5L1686.5 1335L1691.5 1325Z" fill="#ffffff"/>
<path d="M1078.5 1110L1086 1105L1098.5 1106.2L1101 1117.5L1098.5 1135L1093.5 1141.2L1079.8 1140L1077.2 1125Z" fill="#ffffff"/>
<path d="M1111 1210L1123.5 1207.5L1133.5 1212.5L1126 1221.2L1113.5 1220Z" fill="#ffffff"/>
<path d="M0 476.2L25 490L50 510L75 535L100 562.5L125 590L150 615L175 647.5L190 670L200 685M330 295L332.5 330L335 362.5L338.8 385M1010 0L1006.1 39.5L998.2 79L990.3 118.5L978.4 165.9L970.5 205.4L962.6 244.9L950.8 284.4L938.9 316L923.1 347.6L907.3 375.3L891.5 399L871.8 418.7L852 438.5L832.3 458.2L832.3 458.2M927.1 0L946.8 23.7L970.5 43.5L1002.1 55.3L1049.5 63.2L1072.1 62.4M950.8 339.7L990.3 345.7L1029.8 349.6L1069.3 353.6L1097 355.5M1100.9 233.1L1089.1 256.8L1081.2 284.4L1081.2 316L1073.3 347.6L1065.4 379.2L1049.5 414.8L1029.8 442.4L1010 474L998.2 513.5L978.4 553.1L970.5 592.6L982.4 624.2L1002.1 640M1072 63.2L1123.4 61.2L1166.8 71.1L1210.3 84.9L1249.8 102.7L1301.1 118.5L1348.5 130.4L1388 138.3L1419.6 150.1L1467 158L1506.5 165.9L1546 173.8L1585.5 181.7L1617.2 193.6L1644.8 209.4L1672.5 225.2L1704.1 237L1723.8 252.8L1743.6 272.6L1772 292.3M1625.1 165.9L1617.2 221.2L1593.5 268.6L1577.6 316L1561.8 363.4L1534.2 410.8L1530.2 459.8M1719.9 0L1713.9 79L1704.1 138.3L1688.3 189.6L1668.5 237L1640.9 292.3L1613.2 343.7L1585.5 395L1557.9 446.4L1552.4 459.8M1772 150.1L1743.6 197.5L1712 244.9L1700.1 260.7M1316.9 316L1348.5 333.8L1388 337.8L1427.5 351.6L1467 363.4L1506.5 367.4L1546 369.4L1585.5 373.3L1625.1 383.2L1648.8 395L1660.6 404.9M1210.3 84.9L1202.4 118.5L1190.5 150.1L1170.8 173.8L1151 197.5L1123.4 221.2L1103.6 244.9L1087.8 276.5L1079.9 316L1077.9 355.5M1388 337.8L1388 355.5L1376.2 379.2L1370.3 414.8L1368.3 446.4L1356.4 462.2L1316.9 460.2M335.8 846.4L355.5 872.1L371.3 915.5L383.2 955L389.1 990.6M397 1008.4L410.8 1034L426.6 1057.7M389.1 1006.4L375.3 1026.1L363.4 1049.8L359.5 1058.5M0 925.4L39.5 915.5L75.1 911.6L118.5 895.8L150.1 872.1L169.9 856.3L189.6 854.3L221.2 864.2L252.8 872.1L248.9 903.7L276.5 927.4L308.1 951.1L335.8 974.8L363.4 990.6L383.2 996.5M0 852.3L15.8 832.6L27.7 812.8L59.3 801L98.8 793.1L138.3 785.2L169.9 773.3L197.5 757.5M382.8 501.9L399 528.4L418.7 560L434.5 599.5L458.2 650.9L485.9 718L513.5 773.3L533.3 816.8L545.2 868.1L551.1 915.5L545.2 939.2L529.4 970.8L505.6 1010.3L489.8 1041.9L485.9 1057.7M395 733L434.5 733.8L474 725.9L513.5 710.1L549.1 694.3M700 643L651.8 650.9L608.4 666.7L584.7 674.6M505.6 909.6L529.4 919.5L553.1 923.4L584.7 921.5L600.5 919.5M832.3 458L812.5 477.8L804.6 497.5L796.7 533.1L794.8 572.6L794.8 610.1L792.8 633.8L790.8 665.4L784.9 697L773 736.5L767.1 776L769.1 815.5L773 855L777 890.6L782.9 898.5M591.3 669.4L634.8 653.6L694 641.7L741.4 633.8L773 614.1L812.5 605.4L852 604.2L891.5 606.2L931 614.1L962.6 625.9L990.3 637.8L1010 643.7L1041.6 642.5L1073.3 639.7M792.8 1060.5L812.5 1040.7L836.2 1021L867.8 997.3M1061.4 870.8L1089.1 851.1L1112.8 835.3L1144.4 819.5L1183.9 807.6L1207.6 795.8L1236 783.9M1552.4 460L1542.1 491.6L1530.2 531.1L1514.4 558.8L1490.7 586.4L1467 614.1L1443.3 637.8L1419.6 661.5L1395.9 685.2L1372.2 704.9L1348.5 724.7L1324.8 744.4L1301.1 760.2L1277.4 776L1265.6 783.9M1530.2 460L1517.6 499.5L1498.6 539L1486.8 562.7L1451.2 578.5L1411.7 594.3L1372.2 610.1L1340.6 618L1316.9 629.9L1293.2 625.9L1269.5 618M1441.4 644.9L1424 670.2L1421.6 687.5L1429.1 712.4L1441.4 750M1269.5 641.7L1309 649.6L1348.5 665.4L1380.1 685.2L1403.8 712.8L1419.6 736.5L1435.4 764.2L1451.2 787.9L1474.9 795.8L1506.5 799.7L1546 805.7M1178.7 843.2L1202.4 862.9L1230 859L1269.5 874.8L1309 890.6L1348.5 906.4L1388 926.1L1399.9 957.7L1403.8 989.4L1407.8 1021L1419.6 1052.6L1427.5 1076.3L1419.6 1100L1403.8 1131.6L1388 1160M1427.5 1076.3L1467 1074.3L1506.5 1072.3L1546 1068.4L1573.7 1066.4M1534.2 519.3L1585.5 503.5L1625.1 491.6L1664.6 483.7L1704.1 483.7L1772 489.6M1684.3 701L1723.8 697L1772 700.2M1131.3 590.4L1151 570.6L1174.7 539L1198.4 511.4L1222.1 479.8L1237.9 460M0 1055L27.5 1058.8L50 1067.5L75 1077.5L100 1085L125 1095L150 1103.8L175 1112.5L200 1122.5L225 1132.5L250 1140L275 1142.5L300 1138.8M37.5 1463.8L75 1432.5L127.5 1417.5L195 1400L220 1371.2L250 1360L307.5 1335L335 1325L346.2 1285L357.5 1270M0 1435L37.5 1463.8L30 1485L25 1515M0 1565L25 1567.5L50 1575L75 1585L100 1595L135 1607.5L175 1620L200 1630L225 1642.5L250 1650L275 1652.5L300 1645L332.5 1632.5M1329 1237.5L1354 1255L1374 1272.5L1379 1297.5L1386.5 1322.5L1399 1345L1414 1360L1429 1380L1436.5 1410L1441.5 1447.5L1444 1485M1090.1 1351.3L1117.1 1342.2L1162.3 1321.9L1207.4 1310.6L1252.6 1292.6L1257.1 1285.8M237 0L252.8 39.5L272.6 86.9L292.3 150.1L312.1 205.4L327.9 256.8L333.8 316L335.8 355.5L339.7 387.1M1010 460L990.3 499.5L978.4 539L974.5 578.5L982.4 610.1L998.2 633.8L1010 643.7M954.6 296.5L951.3 323L944.7 346.1L918.3 385.8L885.2 418.9L848.8 452L829 478.4M951.3 339.5L997.6 351.1L1030.7 352.8L1073.7 354.4M1129.9 590.9L1163 557.8L1196 524.7L1222.5 495L1245.7 468.5M1047.2 866L1080.3 842.2L1113.4 825.7L1163 815.7L1196 809.1L1229.1 795.9L1262.2 776L1286 759.5" fill="none" stroke="#fff" stroke-width="4.6" stroke-linejoin="round" stroke-opacity="0.85"/>
<path d="M0 476.2L25 490L50 510L75 535L100 562.5L125 590L150 615L175 647.5L190 670L200 685" fill="none" stroke="#a9a9a9" stroke-width="1.5" stroke-linejoin="round"/>
<path d="M330 295L332.5 330L335 362.5L338.8 385" fill="none" stroke="#a9a9a9" stroke-width="1.5" stroke-linejoin="round"/>
<path d="M1010 0L1006.1 39.5L998.2 79L990.3 118.5L978.4 165.9L970.5 205.4L962.6 244.9L950.8 284.4L938.9 316L923.1 347.6L907.3 375.3L891.5 399L871.8 418.7L852 438.5L832.3 458.2L832.3 458.2" fill="none" stroke="#a9a9a9" stroke-width="1.5" stroke-linejoin="round"/>
<path d="M927.1 0L946.8 23.7L970.5 43.5L1002.1 55.3L1049.5 63.2L1072.1 62.4" fill="none" stroke="#a9a9a9" stroke-width="1.5" stroke-linejoin="round"/>
<path d="M950.8 339.7L990.3 345.7L1029.8 349.6L1069.3 353.6L1097 355.5" fill="none" stroke="#a9a9a9" stroke-width="1.5" stroke-linejoin="round"/>
<path d="M1100.9 233.1L1089.1 256.8L1081.2 284.4L1081.2 316L1073.3 347.6L1065.4 379.2L1049.5 414.8L1029.8 442.4L1010 474L998.2 513.5L978.4 553.1L970.5 592.6L982.4 624.2L1002.1 640" fill="none" stroke="#a9a9a9" stroke-width="1.5" stroke-linejoin="round"/>
<path d="M1072 63.2L1123.4 61.2L1166.8 71.1L1210.3 84.9L1249.8 102.7L1301.1 118.5L1348.5 130.4L1388 138.3L1419.6 150.1L1467 158L1506.5 165.9L1546 173.8L1585.5 181.7L1617.2 193.6L1644.8 209.4L1672.5 225.2L1704.1 237L1723.8 252.8L1743.6 272.6L1772 292.3" fill="none" stroke="#a9a9a9" stroke-width="1.5" stroke-linejoin="round"/>
<path d="M1625.1 165.9L1617.2 221.2L1593.5 268.6L1577.6 316L1561.8 363.4L1534.2 410.8L1530.2 459.8" fill="none" stroke="#a9a9a9" stroke-width="1.5" stroke-linejoin="round"/>
<path d="M1719.9 0L1713.9 79L1704.1 138.3L1688.3 189.6L1668.5 237L1640.9 292.3L1613.2 343.7L1585.5 395L1557.9 446.4L1552.4 459.8" fill="none" stroke="#a9a9a9" stroke-width="1.5" stroke-linejoin="round"/>
<path d="M1772 150.1L1743.6 197.5L1712 244.9L1700.1 260.7" fill="none" stroke="#a9a9a9" stroke-width="1.5" stroke-linejoin="round"/>
<path d="M1316.9 316L1348.5 333.8L1388 337.8L1427.5 351.6L1467 363.4L1506.5 367.4L1546 369.4L1585.5 373.3L1625.1 383.2L1648.8 395L1660.6 404.9" fill="none" stroke="#a9a9a9" stroke-width="1.5" stroke-linejoin="round"/>
<path d="M1210.3 84.9L1202.4 118.5L1190.5 150.1L1170.8 173.8L1151 197.5L1123.4 221.2L1103.6 244.9L1087.8 276.5L1079.9 316L1077.9 355.5" fill="none" stroke="#a9a9a9" stroke-width="1.5" stroke-linejoin="round"/>
<path d="M1388 337.8L1388 355.5L1376.2 379.2L1370.3 414.8L1368.3 446.4L1356.4 462.2L1316.9 460.2" fill="none" stroke="#a9a9a9" stroke-width="1.5" stroke-linejoin="round"/>
<path d="M335.8 846.4L355.5 872.1L371.3 915.5L383.2 955L389.1 990.6" fill="none" stroke="#a9a9a9" stroke-width="1.5" stroke-linejoin="round"/>
<path d="M397 1008.4L410.8 1034L426.6 1057.7" fill="none" stroke="#a9a9a9" stroke-width="1.5" stroke-linejoin="round"/>
<path d="M389.1 1006.4L375.3 1026.1L363.4 1049.8L359.5 1058.5" fill="none" stroke="#a9a9a9" stroke-width="1.5" stroke-linejoin="round"/>
<path d="M0 925.4L39.5 915.5L75.1 911.6L118.5 895.8L150.1 872.1L169.9 856.3L189.6 854.3L221.2 864.2L252.8 872.1L248.9 903.7L276.5 927.4L308.1 951.1L335.8 974.8L363.4 990.6L383.2 996.5" fill="none" stroke="#a9a9a9" stroke-width="1.5" stroke-linejoin="round"/>
<path d="M0 852.3L15.8 832.6L27.7 812.8L59.3 801L98.8 793.1L138.3 785.2L169.9 773.3L197.5 757.5" fill="none" stroke="#a9a9a9" stroke-width="1.5" stroke-linejoin="round"/>
<path d="M382.8 501.9L399 528.4L418.7 560L434.5 599.5L458.2 650.9L485.9 718L513.5 773.3L533.3 816.8L545.2 868.1L551.1 915.5L545.2 939.2L529.4 970.8L505.6 1010.3L489.8 1041.9L485.9 1057.7" fill="none" stroke="#a9a9a9" stroke-width="1.5" stroke-linejoin="round"/>
<path d="M395 733L434.5 733.8L474 725.9L513.5 710.1L549.1 694.3" fill="none" stroke="#a9a9a9" stroke-width="1.5" stroke-linejoin="round"/>
<path d="M700 643L651.8 650.9L608.4 666.7L584.7 674.6" fill="none" stroke="#a9a9a9" stroke-width="1.5" stroke-linejoin="round"/>
<path d="M505.6 909.6L529.4 919.5L553.1 923.4L584.7 921.5L600.5 919.5" fill="none" stroke="#a9a9a9" stroke-width="1.5" stroke-linejoin="round"/>
<path d="M832.3 458L812.5 477.8L804.6 497.5L796.7 533.1L794.8 572.6L794.8 610.1L792.8 633.8L790.8 665.4L784.9 697L773 736.5L767.1 776L769.1 815.5L773 855L777 890.6L782.9 898.5" fill="none" stroke="#a9a9a9" stroke-width="1.5" stroke-linejoin="round"/>
<path d="M591.3 669.4L634.8 653.6L694 641.7L741.4 633.8L773 614.1L812.5 605.4L852 604.2L891.5 606.2L931 614.1L962.6 625.9L990.3 637.8L1010 643.7L1041.6 642.5L1073.3 639.7" fill="none" stroke="#a9a9a9" stroke-width="1.5" stroke-linejoin="round"/>
<path d="M792.8 1060.5L812.5 1040.7L836.2 1021L867.8 997.3" fill="none" stroke="#a9a9a9" stroke-width="1.5" stroke-linejoin="round"/>
<path d="M1061.4 870.8L1089.1 851.1L1112.8 835.3L1144.4 819.5L1183.9 807.6L1207.6 795.8L1236 783.9" fill="none" stroke="#a9a9a9" stroke-width="1.5" stroke-linejoin="round"/>
<path d="M1552.4 460L1542.1 491.6L1530.2 531.1L1514.4 558.8L1490.7 586.4L1467 614.1L1443.3 637.8L1419.6 661.5L1395.9 685.2L1372.2 704.9L1348.5 724.7L1324.8 744.4L1301.1 760.2L1277.4 776L1265.6 783.9" fill="none" stroke="#a9a9a9" stroke-width="1.5" stroke-linejoin="round"/>
<path d="M1530.2 460L1517.6 499.5L1498.6 539L1486.8 562.7L1451.2 578.5L1411.7 594.3L1372.2 610.1L1340.6 618L1316.9 629.9L1293.2 625.9L1269.5 618" fill="none" stroke="#a9a9a9" stroke-width="1.5" stroke-linejoin="round"/>
<path d="M1441.4 644.9L1424 670.2L1421.6 687.5L1429.1 712.4L1441.4 750" fill="none" stroke="#a9a9a9" stroke-width="1.5" stroke-linejoin="round"/>
<path d="M1269.5 641.7L1309 649.6L1348.5 665.4L1380.1 685.2L1403.8 712.8L1419.6 736.5L1435.4 764.2L1451.2 787.9L1474.9 795.8L1506.5 799.7L1546 805.7" fill="none" stroke="#a9a9a9" stroke-width="1.5" stroke-linejoin="round"/>
<path d="M1178.7 843.2L1202.4 862.9L1230 859L1269.5 874.8L1309 890.6L1348.5 906.4L1388 926.1L1399.9 957.7L1403.8 989.4L1407.8 1021L1419.6 1052.6L1427.5 1076.3L1419.6 1100L1403.8 1131.6L1388 1160" fill="none" stroke="#a9a9a9" stroke-width="1.5" stroke-linejoin="round"/>
<path d="M1427.5 1076.3L1467 1074.3L1506.5 1072.3L1546 1068.4L1573.7 1066.4" fill="none" stroke="#a9a9a9" stroke-width="1.5" stroke-linejoin="round"/>
<path d="M1534.2 519.3L1585.5 503.5L1625.1 491.6L1664.6 483.7L1704.1 483.7L1772 489.6" fill="none" stroke="#a9a9a9" stroke-width="1.5" stroke-linejoin="round"/>
<path d="M1684.3 701L1723.8 697L1772 700.2" fill="none" stroke="#a9a9a9" stroke-width="1.5" stroke-linejoin="round"/>
<path d="M1131.3 590.4L1151 570.6L1174.7 539L1198.4 511.4L1222.1 479.8L1237.9 460" fill="none" stroke="#a9a9a9" stroke-width="1.5" stroke-linejoin="round"/>
<path d="M0 1055L27.5 1058.8L50 1067.5L75 1077.5L100 1085L125 1095L150 1103.8L175 1112.5L200 1122.5L225 1132.5L250 1140L275 1142.5L300 1138.8" fill="none" stroke="#a9a9a9" stroke-width="1.5" stroke-linejoin="round"/>
<path d="M37.5 1463.8L75 1432.5L127.5 1417.5L195 1400L220 1371.2L250 1360L307.5 1335L335 1325L346.2 1285L357.5 1270" fill="none" stroke="#a9a9a9" stroke-width="1.5" stroke-linejoin="round"/>
<path d="M0 1435L37.5 1463.8L30 1485L25 1515" fill="none" stroke="#a9a9a9" stroke-width="1.5" stroke-linejoin="round"/>
<path d="M0 1565L25 1567.5L50 1575L75 1585L100 1595L135 1607.5L175 1620L200 1630L225 1642.5L250 1650L275 1652.5L300 1645L332.5 1632.5" fill="none" stroke="#a9a9a9" stroke-width="1.5" stroke-linejoin="round"/>
<path d="M1329 1237.5L1354 1255L1374 1272.5L1379 1297.5L1386.5 1322.5L1399 1345L1414 1360L1429 1380L1436.5 1410L1441.5 1447.5L1444 1485" fill="none" stroke="#a9a9a9" stroke-width="1.5" stroke-linejoin="round"/>
<path d="M1090.1 1351.3L1117.1 1342.2L1162.3 1321.9L1207.4 1310.6L1252.6 1292.6L1257.1 1285.8" fill="none" stroke="#a9a9a9" stroke-width="1.5" stroke-linejoin="round"/>
<path d="M237 0L252.8 39.5L272.6 86.9L292.3 150.1L312.1 205.4L327.9 256.8L333.8 316L335.8 355.5L339.7 387.1" fill="none" stroke="#a9a9a9" stroke-width="1.5" stroke-linejoin="round"/>
<path d="M1010 460L990.3 499.5L978.4 539L974.5 578.5L982.4 610.1L998.2 633.8L1010 643.7" fill="none" stroke="#a9a9a9" stroke-width="1.5" stroke-linejoin="round"/>
<path d="M1315 0L1318.3 33.1L1315 66.1L1305.1 109.1L1301.7 138.9L1303.4 165.3" fill="none" stroke="#dcdcdc" stroke-width="1" stroke-linejoin="round"/>
<path d="M1351.3 0L1348 33.1L1341.4 66.1L1338.1 102.5L1348 112.4L1351.3 135.6" fill="none" stroke="#dcdcdc" stroke-width="1" stroke-linejoin="round"/>
<path d="M1417.5 0L1424.1 33.1L1417.5 52.9L1404.3 66.1L1401 79.4L1414.2 95.9L1414.2 112.4L1404.3 138.9" fill="none" stroke="#dcdcdc" stroke-width="1" stroke-linejoin="round"/>
<path d="M1450.6 0L1470.4 33.1L1490.2 52.9L1493.5 76.1L1473.7 79.4L1450.6 86L1437.3 99.2L1430.7 119.1L1417.5 132.3L1404.3 138.9" fill="none" stroke="#dcdcdc" stroke-width="1" stroke-linejoin="round"/>
<path d="M1493.5 76.1L1516.7 82.7L1556.4 92.6L1592.8 95.9L1625.8 99.2L1649 102.5" fill="none" stroke="#dcdcdc" stroke-width="1" stroke-linejoin="round"/>
<path d="M1582.8 0L1596.1 33.1L1609.3 43L1599.4 52.9L1576.2 66.1L1556.4 92.6" fill="none" stroke="#dcdcdc" stroke-width="1" stroke-linejoin="round"/>
<path d="M1642.4 0L1635.8 49.6L1629.1 99.2L1625.8 165.3L1615.9 198.4" fill="none" stroke="#dcdcdc" stroke-width="1" stroke-linejoin="round"/>
<path d="M1186 155.4L1219.1 162L1252.1 172L1285.2 178.6L1311.7 172L1318.3 185.2L1341.4 188.5L1344.7 211.6L1351.3 231.5" fill="none" stroke="#dcdcdc" stroke-width="1" stroke-linejoin="round"/>
<path d="M1305.1 109.1L1334.8 105.8L1364.6 138.9L1361.3 172" fill="none" stroke="#dcdcdc" stroke-width="1" stroke-linejoin="round"/>
<path d="M1303.4 142.2L1366.2 142.2" fill="none" stroke="#dcdcdc" stroke-width="1" stroke-linejoin="round"/>
<path d="M1404.3 215L1434 211.6L1440.6 205L1453.9 215L1453.9 228.2L1477 231.5L1500.2 257.9L1496.9 271.2L1503.5 277.8L1477 282.7L1440.6 267.9L1410.9 262.9L1358 261.3L1344.7 284.4L1338.1 317.5L1348 327.4" fill="none" stroke="#dcdcdc" stroke-width="1" stroke-linejoin="round"/>
<path d="M1404.3 215L1407.6 261.3" fill="none" stroke="#dcdcdc" stroke-width="1" stroke-linejoin="round"/>
<path d="M1440.6 267.9L1447.3 310.9L1417.5 330.7" fill="none" stroke="#dcdcdc" stroke-width="1" stroke-linejoin="round"/>
<path d="M1523.3 221.6L1609.3 215L1619.2 254.6L1602.7 277.8L1533.2 286.1L1523.3 221.6" fill="none" stroke="#dcdcdc" stroke-width="1" stroke-linejoin="round"/>
<path d="M1503.5 277.8L1516.7 281.1L1496.9 307.5L1490.2 340.6L1533.2 334L1533.2 314.2L1526.6 287.7" fill="none" stroke="#dcdcdc" stroke-width="1" stroke-linejoin="round"/>
<path d="M1490.2 340.6L1486.9 367.1" fill="none" stroke="#dcdcdc" stroke-width="1" stroke-linejoin="round"/>
<path d="M1460.5 365.4L1467.1 380.3L1477 396.8L1483.6 436.5L1480.3 496L1516.7 506L1533.2 502.7" fill="none" stroke="#dcdcdc" stroke-width="1" stroke-linejoin="round"/>
<path d="M1483.6 436.5L1529.9 426.6L1533.2 396.8" fill="none" stroke="#dcdcdc" stroke-width="1" stroke-linejoin="round"/>
<path d="M1692 297.6L1695.3 330.7L1682 363.8L1688.7 380.3L1715.1 377L1741.6 330.7L1748.2 314.2" fill="none" stroke="#dcdcdc" stroke-width="1" stroke-linejoin="round"/>
<path d="M1599.4 393.5L1632.4 380.3L1658.9 403.5" fill="none" stroke="#dcdcdc" stroke-width="1" stroke-linejoin="round"/>
<path d="M1186 380.3L1219.1 373.7L1252.1 390.2L1272 413.4L1262.1 429.9L1235.6 449.8L1219.1 476.2L1199.2 496L1186 512.6" fill="none" stroke="#dcdcdc" stroke-width="1" stroke-linejoin="round"/>
<path d="M1318.3 357.2L1344.7 353.8L1358 363.8L1371.2 380.3" fill="none" stroke="#dcdcdc" stroke-width="1" stroke-linejoin="round"/>
<path d="M1186 257.9L1219.1 261.3L1252.1 264.6L1308.4 264.6" fill="none" stroke="#dcdcdc" stroke-width="1" stroke-linejoin="round"/>
<path d="M799.2 511.5L782.7 531.3L759.5 541.3L733.1 544.6L700 547.9" fill="none" stroke="#dcdcdc" stroke-width="1" stroke-linejoin="round"/>
<path d="M759.5 541.3L766.1 577.6L769.4 604.1" fill="none" stroke="#dcdcdc" stroke-width="1" stroke-linejoin="round"/>
<path d="M832.3 478.4L842.2 511.5L855.4 537.9L858.7 577.6L862 604.1L865.3 643.8L872 660.3L885.2 676.8L891.8 703.3L898.4 726.4L911.6 743L918.3 769.4L915 795.9L918.3 822.3L931.5 842.2L951.3 866" fill="none" stroke="#dcdcdc" stroke-width="1" stroke-linejoin="round"/>
<path d="M812.4 382.5L825.7 405.7L822.4 435.4L815.7 452" fill="none" stroke="#dcdcdc" stroke-width="1" stroke-linejoin="round"/>
<path d="M700 792.6L733.1 795.9L766.1 795.9L799.2 789.3L832.3 776L865.3 759.5L898.4 736.4L931.5 723.1L964.6 706.6L997.6 676.8" fill="none" stroke="#dcdcdc" stroke-width="1" stroke-linejoin="round"/>
<path d="M805.8 749.6L848.8 729.8L862 759.5L819.1 779.4L805.8 749.6" fill="none" stroke="#dcdcdc" stroke-width="1" stroke-linejoin="round"/>
<path d="M931.5 686.8L938.1 700L944.7 716.5" fill="none" stroke="#dcdcdc" stroke-width="1" stroke-linejoin="round"/>
<path d="M977.8 743L987.7 752.9L984.4 776L971.2 795.9L964.6 815.7L954.6 835.6L951.3 866" fill="none" stroke="#dcdcdc" stroke-width="1" stroke-linejoin="round"/>
<path d="M825.7 779.4L832.3 795.9L852.1 809.1L885.2 822.3L911.6 842.2L918.3 866" fill="none" stroke="#dcdcdc" stroke-width="1" stroke-linejoin="round"/>
<path d="M997.6 418.9L1014.2 465.2L1030.7 511.5L1037.3 518.1L1073.7 514.8L1090.2 521.4L1116.7 564.4L1136.5 571L1163 557.8" fill="none" stroke="#dcdcdc" stroke-width="1" stroke-linejoin="round"/>
<path d="M1030.7 385.8L1050.5 412.3L1063.8 418.9L1096.8 425.5L1113.4 435.4" fill="none" stroke="#dcdcdc" stroke-width="1" stroke-linejoin="round"/>
<path d="M997.6 418.9L1030.7 385.8" fill="none" stroke="#dcdcdc" stroke-width="1" stroke-linejoin="round"/>
<path d="M1040.6 521.4L1043.9 541.3L1063.8 564.4L1073.7 590.9" fill="none" stroke="#dcdcdc" stroke-width="1" stroke-linejoin="round"/>
<path d="M1159.7 511.5L1169.6 508.2L1179.5 531.3L1189.4 557.8L1229.1 544.6L1262.2 534.6" fill="none" stroke="#dcdcdc" stroke-width="1" stroke-linejoin="round"/>
<path d="M1063.8 866L1096.8 848.8L1129.9 838.9L1156.4 838.9L1176.2 855.4L1189.4 866" fill="none" stroke="#dcdcdc" stroke-width="1" stroke-linejoin="round"/>
<path d="M865.3 643.8L832.3 647.1L812.4 668.6" fill="none" stroke="#dcdcdc" stroke-width="1" stroke-linejoin="round"/>
<path d="M1080.3 319.7L1113.4 299.8L1126.6 286.6" fill="none" stroke="#dcdcdc" stroke-width="1" stroke-linejoin="round"/>
<path d="M1007.5 643.8L991 670.2L971.2 696.7L944.7 716.5L911.6 743" fill="none" stroke="#dcdcdc" stroke-width="1" stroke-linejoin="round"/>
<path d="M954.6 296.5L951.3 323L944.7 346.1L918.3 385.8L885.2 418.9L848.8 452L829 478.4" fill="none" stroke="#a9a9a9" stroke-width="1.5" stroke-linejoin="round"/>
<path d="M951.3 339.5L997.6 351.1L1030.7 352.8L1073.7 354.4" fill="none" stroke="#a9a9a9" stroke-width="1.5" stroke-linejoin="round"/>
<path d="M1129.9 590.9L1163 557.8L1196 524.7L1222.5 495L1245.7 468.5" fill="none" stroke="#a9a9a9" stroke-width="1.5" stroke-linejoin="round"/>
<path d="M1047.2 866L1080.3 842.2L1113.4 825.7L1163 815.7L1196 809.1L1229.1 795.9L1262.2 776L1286 759.5" fill="none" stroke="#a9a9a9" stroke-width="1.5" stroke-linejoin="round"/>
<rect x="30.5" y="28.8" width="1022" height="266.8" fill="none" stroke="#8a8a8a" stroke-width="1.6"/>
<rect x="72" y="50.8" width="195" height="197.4" fill="#eaeaf2"/>
<rect x="75.2" y="91.4" width="20.5" height="156.8" fill="#b3b3b3"/>
<rect x="103.5" y="158.1" width="20.5" height="90.1" fill="#b3b3b3"/>
<rect x="131.9" y="119.5" width="20.5" height="128.7" fill="#b3b3b3"/>
<rect x="160.2" y="105.3" width="20.5" height="142.9" fill="#b3b3b3"/>
<rect x="188.5" y="100.2" width="20.5" height="148" fill="#b3b3b3"/>
<rect x="216.8" y="116.5" width="20.5" height="131.7" fill="#b3b3b3"/>
<rect x="245.2" y="110.4" width="20.5" height="137.8" fill="#b3b3b3"/>
<text class="l" font-size="38.3" transform="translate(63 294) rotate(-90)">Greenery value</text>
<text class="l" font-size="37" transform="translate(105.5 284) scale(1.035 1)">Method</text>
<text class="l" font-size="40.5" transform="translate(286 102.5) scale(1.02 1)">Bar descriptions</text>
<path d="M286 106.4H581.5" stroke="#111" stroke-width="2"/>
<text class="l" font-size="52.5" transform="translate(284 177.5) scale(1.04 1)">1. Perceived</text>
<text class="l" font-size="52.5" transform="translate(339 243.5) scale(1.035 1)">greenery</text>
<text class="l" font-size="52.5" transform="translate(604.5 112.8) scale(1.065 1)">2. CGVI</text>
<text class="l" font-size="52.5" transform="translate(604.5 183) scale(1.055 1)">3. SGVI</text>
<text class="l" font-size="52.5" transform="translate(605 253) scale(1.06 1)">4. VGVI</text>
<text class="l" font-size="52.5" transform="translate(819.5 112.8) scale(1.06 1)">5. GSR</text>
<text class="l" font-size="52.5" transform="translate(819.5 183) scale(1.065 1)">6. NDVI</text>
<text class="l" font-size="52.5" transform="translate(819.5 253) scale(1.06 1)">7. LC</text>
<path d="M1718.4 26.2L1751 145.6H1686ZM1718.4 56.4L1696.4 139H1741.3Z" fill="#8a8a8a" fill-rule="evenodd"/><text x="1719" y="130.5" font-size="31" text-anchor="middle" fill="#777" class="l2">N</text>
<path d="M1262.6 1965.8H1719.3M1262.6 1941V1989.3M1490.3 1941V1989.3M1719.3 1941V1989.3" stroke="#000" stroke-width="2.6" fill="none"/><g font-size="23" class="l" text-anchor="middle"><text x="1262.6" y="1934">0</text><text x="1490.3" y="1934">2</text><text x="1736.5" y="1934">4 km</text></g>
<g>
<path d="M382.8 385.3L420.7 348.3" stroke="#000" stroke-width="2.2" fill="none"/>
<path d="M420.7 331L438 348.3L420.7 365.6L403.4 348.3Z" fill="#000"/>
<rect x="191.8" y="386.3" width="190" height="192.3" fill="#eaeaf2" stroke="#fff" stroke-width="2"/>
<path d="M191.8 559.4H381.8M191.8 540.1H381.8M191.8 520.9H381.8M191.8 501.7H381.8M191.8 463.2H381.8M191.8 444H381.8M191.8 424.8H381.8M191.8 405.5H381.8" stroke="#fff" stroke-width="2.1" fill="none"/>
<path d="M192.8 482.5H380.8" stroke="#fff" stroke-width="2.6" fill="none"/>
<path d="M192.8 482.5H380.8" stroke="#a4a4a8" stroke-width="1.5" fill="none"/>
<rect x="193.3" y="424" width="22" height="154.6" fill="#ec8a7f" stroke="#fff" stroke-width="1.5"/>
<rect x="220.8" y="489.4" width="22" height="89.2" fill="#a6c96f" stroke="#fff" stroke-width="1.5"/>
<rect x="248.3" y="451.5" width="22" height="127.1" fill="#8aba6e" stroke="#fff" stroke-width="1.5"/>
<rect x="275.8" y="437.3" width="22" height="141.3" fill="#80b46e" stroke="#fff" stroke-width="1.5"/>
<rect x="303.3" y="432.5" width="22" height="146.1" fill="#7db26d" stroke="#fff" stroke-width="1.5"/>
<rect x="330.8" y="448.6" width="22" height="130" fill="#88b96e" stroke="#fff" stroke-width="1.5"/>
<rect x="358.3" y="442.5" width="22" height="136.1" fill="#84b66e" stroke="#fff" stroke-width="1.5"/>
<path d="M179.2 578.6h9.8M179.2 559.4h9.8M179.2 540.1h9.8M179.2 520.9h9.8M179.2 501.7h9.8M179.2 482.5h9.8M179.2 463.2h9.8M179.2 444h9.8M179.2 424.8h9.8M179.2 405.5h9.8M179.2 386.3h9.8M204.3 581.2v8.8M231.8 581.2v8.8M259.3 581.2v8.8M286.8 581.2v8.8M314.3 581.2v8.8M341.8 581.2v8.8M369.3 581.2v8.8" stroke="#000" stroke-width="2.2" fill="none"/>
<g class="t" text-anchor="end"><text x="170.3" y="393.1">100</text><text x="170.3" y="489.3">50</text><text x="170.3" y="585.4">0</text></g>
<g class="t" text-anchor="middle"><text x="204.3" y="612.2">1</text><text x="231.8" y="612.2">2</text><text x="259.3" y="612.2">3</text><text x="286.8" y="612.2">4</text><text x="314.3" y="612.2">5</text><text x="341.8" y="612.2">6</text><text x="369.3" y="612.2">7</text></g>
</g>
<g>
<path d="M610.3 503.3L572.4 540.3" stroke="#000" stroke-width="2.2" fill="none"/>
<path d="M572.4 523L589.7 540.3L572.4 557.6L555.1 540.3Z" fill="#000"/>
<rect x="611.3" y="310" width="190" height="192.3" fill="#eaeaf2" stroke="#fff" stroke-width="2"/>
<path d="M611.3 483.1H801.3M611.3 463.8H801.3M611.3 444.6H801.3M611.3 425.4H801.3M611.3 386.9H801.3M611.3 367.7H801.3M611.3 348.5H801.3M611.3 329.2H801.3" stroke="#fff" stroke-width="2.1" fill="none"/>
<path d="M612.3 406.1H800.3" stroke="#fff" stroke-width="2.6" fill="none"/>
<path d="M612.3 406.1H800.3" stroke="#a4a4a8" stroke-width="1.5" fill="none"/>
<rect x="612.8" y="338.7" width="22" height="163.6" fill="#ec8a7f" stroke="#fff" stroke-width="1.5"/>
<rect x="640.3" y="362.5" width="22" height="139.8" fill="#81b56e" stroke="#fff" stroke-width="1.5"/>
<rect x="667.8" y="345.8" width="22" height="156.5" fill="#76ae6d" stroke="#fff" stroke-width="1.5"/>
<rect x="695.3" y="323.3" width="22" height="179" fill="#65a56c" stroke="#fff" stroke-width="1.5"/>
<rect x="722.8" y="355" width="22" height="147.3" fill="#7cb26d" stroke="#fff" stroke-width="1.5"/>
<rect x="750.3" y="367.9" width="22" height="134.4" fill="#85b76e" stroke="#fff" stroke-width="1.5"/>
<rect x="777.8" y="326" width="22" height="176.3" fill="#67a66c" stroke="#fff" stroke-width="1.5"/>
<path d="M598.7 502.3h9.8M598.7 483.1h9.8M598.7 463.8h9.8M598.7 444.6h9.8M598.7 425.4h9.8M598.7 406.1h9.8M598.7 386.9h9.8M598.7 367.7h9.8M598.7 348.5h9.8M598.7 329.2h9.8M598.7 310h9.8M623.8 504.9v8.8M651.3 504.9v8.8M678.8 504.9v8.8M706.3 504.9v8.8M733.8 504.9v8.8M761.3 504.9v8.8M788.8 504.9v8.8" stroke="#000" stroke-width="2.2" fill="none"/>
<g class="t" text-anchor="end"><text x="589.8" y="316.8">100</text><text x="589.8" y="412.9">50</text><text x="589.8" y="509.1">0</text></g>
<g class="t" text-anchor="middle"><text x="623.8" y="535.9">1</text><text x="651.3" y="535.9">2</text><text x="678.8" y="535.9">3</text><text x="706.3" y="535.9">4</text><text x="733.8" y="535.9">5</text><text x="761.3" y="535.9">6</text><text x="788.8" y="535.9">7</text></g>
</g>
<g>
<path d="M1318.3 270L1356.2 233" stroke="#000" stroke-width="2.2" fill="none"/>
<path d="M1356.2 215.7L1373.5 233L1356.2 250.3L1338.9 233Z" fill="#000"/>
<rect x="1127.3" y="271" width="190" height="192.3" fill="#eaeaf2" stroke="#fff" stroke-width="2"/>
<path d="M1127.3 444.1H1317.3M1127.3 424.8H1317.3M1127.3 405.6H1317.3M1127.3 386.4H1317.3M1127.3 347.9H1317.3M1127.3 328.7H1317.3M1127.3 309.5H1317.3M1127.3 290.2H1317.3" stroke="#fff" stroke-width="2.1" fill="none"/>
<path d="M1128.3 367.1H1316.3" stroke="#fff" stroke-width="2.6" fill="none"/>
<path d="M1128.3 367.1H1316.3" stroke="#a4a4a8" stroke-width="1.5" fill="none"/>
<rect x="1128.8" y="333.7" width="22" height="129.6" fill="#ec8a7f" stroke="#fff" stroke-width="1.5"/>
<rect x="1156.3" y="377.7" width="22" height="85.6" fill="#a9ca70" stroke="#fff" stroke-width="1.5"/>
<rect x="1183.8" y="360.8" width="22" height="102.5" fill="#9bc36f" stroke="#fff" stroke-width="1.5"/>
<rect x="1211.3" y="380.6" width="22" height="82.7" fill="#abcc70" stroke="#fff" stroke-width="1.5"/>
<rect x="1238.8" y="390.2" width="22" height="73.1" fill="#b3cf70" stroke="#fff" stroke-width="1.5"/>
<rect x="1266.3" y="361.8" width="22" height="101.5" fill="#9cc46f" stroke="#fff" stroke-width="1.5"/>
<rect x="1293.8" y="407" width="22" height="56.3" fill="#c0d571" stroke="#fff" stroke-width="1.5"/>
<path d="M1114.7 463.3h9.8M1114.7 444.1h9.8M1114.7 424.8h9.8M1114.7 405.6h9.8M1114.7 386.4h9.8M1114.7 367.1h9.8M1114.7 347.9h9.8M1114.7 328.7h9.8M1114.7 309.5h9.8M1114.7 290.2h9.8M1114.7 271h9.8M1139.8 465.9v8.8M1167.3 465.9v8.8M1194.8 465.9v8.8M1222.3 465.9v8.8M1249.8 465.9v8.8M1277.3 465.9v8.8M1304.8 465.9v8.8" stroke="#000" stroke-width="2.2" fill="none"/>
<g class="t" text-anchor="end"><text x="1105.8" y="277.8">100</text><text x="1105.8" y="373.9">50</text><text x="1105.8" y="470.1">0</text></g>
<g class="t" text-anchor="middle"><text x="1139.8" y="496.9">1</text><text x="1167.3" y="496.9">2</text><text x="1194.8" y="496.9">3</text><text x="1222.3" y="496.9">4</text><text x="1249.8" y="496.9">5</text><text x="1277.3" y="496.9">6</text><text x="1304.8" y="496.9">7</text></g>
</g>
<g>
<path d="M395.1 846.1L433 883.1" stroke="#000" stroke-width="2.2" fill="none"/>
<path d="M433 865.8L450.3 883.1L433 900.4L415.7 883.1Z" fill="#000"/>
<rect x="204.1" y="652.8" width="190" height="192.3" fill="#eaeaf2" stroke="#fff" stroke-width="2"/>
<path d="M204.1 825.9H394.1M204.1 806.6H394.1M204.1 787.4H394.1M204.1 768.2H394.1M204.1 729.7H394.1M204.1 710.5H394.1M204.1 691.3H394.1M204.1 672H394.1" stroke="#fff" stroke-width="2.1" fill="none"/>
<path d="M205.1 748.9H393.1" stroke="#fff" stroke-width="2.6" fill="none"/>
<path d="M205.1 748.9H393.1" stroke="#a4a4a8" stroke-width="1.5" fill="none"/>
<rect x="205.6" y="714.1" width="22" height="131" fill="#ec8a7f" stroke="#fff" stroke-width="1.5"/>
<rect x="233.1" y="774.5" width="22" height="70.6" fill="#b5d070" stroke="#fff" stroke-width="1.5"/>
<rect x="260.6" y="737.2" width="22" height="107.9" fill="#97c16e" stroke="#fff" stroke-width="1.5"/>
<rect x="288.1" y="721.3" width="22" height="123.8" fill="#8cbb6e" stroke="#fff" stroke-width="1.5"/>
<rect x="315.6" y="771.4" width="22" height="73.7" fill="#b3cf70" stroke="#fff" stroke-width="1.5"/>
<rect x="343.1" y="738.4" width="22" height="106.7" fill="#98c26e" stroke="#fff" stroke-width="1.5"/>
<rect x="370.6" y="756.4" width="22" height="88.7" fill="#a6c96f" stroke="#fff" stroke-width="1.5"/>
<path d="M191.5 845.1h9.8M191.5 825.9h9.8M191.5 806.6h9.8M191.5 787.4h9.8M191.5 768.2h9.8M191.5 748.9h9.8M191.5 729.7h9.8M191.5 710.5h9.8M191.5 691.3h9.8M191.5 672h9.8M191.5 652.8h9.8M216.6 847.7v8.8M244.1 847.7v8.8M271.6 847.7v8.8M299.1 847.7v8.8M326.6 847.7v8.8M354.1 847.7v8.8M381.6 847.7v8.8" stroke="#000" stroke-width="2.2" fill="none"/>
<g class="t" text-anchor="end"><text x="182.6" y="659.6">100</text><text x="182.6" y="755.7">50</text><text x="182.6" y="851.9">0</text></g>
<g class="t" text-anchor="middle"><text x="216.6" y="878.7">1</text><text x="244.1" y="878.7">2</text><text x="271.6" y="878.7">3</text><text x="299.1" y="878.7">4</text><text x="326.6" y="878.7">5</text><text x="354.1" y="878.7">6</text><text x="381.6" y="878.7">7</text></g>
</g>
<g>
<path d="M740.2 672.5L778.1 635.5" stroke="#000" stroke-width="2.2" fill="none"/>
<path d="M778.1 618.2L795.4 635.5L778.1 652.8L760.8 635.5Z" fill="#000"/>
<rect x="549.2" y="673.5" width="190" height="192.3" fill="#eaeaf2" stroke="#fff" stroke-width="2"/>
<path d="M549.2 846.6H739.2M549.2 827.3H739.2M549.2 808.1H739.2M549.2 788.9H739.2M549.2 750.4H739.2M549.2 731.2H739.2M549.2 712H739.2M549.2 692.7H739.2" stroke="#fff" stroke-width="2.1" fill="none"/>
<path d="M550.2 769.6H738.2" stroke="#fff" stroke-width="2.6" fill="none"/>
<path d="M550.2 769.6H738.2" stroke="#a4a4a8" stroke-width="1.5" fill="none"/>
<rect x="550.7" y="750.4" width="22" height="115.4" fill="#ec8a7f" stroke="#fff" stroke-width="1.5"/>
<rect x="578.2" y="784.5" width="22" height="81.3" fill="#accc70" stroke="#fff" stroke-width="1.5"/>
<rect x="605.7" y="771.8" width="22" height="94" fill="#a2c76f" stroke="#fff" stroke-width="1.5"/>
<rect x="633.2" y="722.5" width="22" height="143.3" fill="#7fb36e" stroke="#fff" stroke-width="1.5"/>
<rect x="660.7" y="793.9" width="22" height="71.9" fill="#b4d070" stroke="#fff" stroke-width="1.5"/>
<rect x="688.2" y="764.8" width="22" height="101" fill="#9cc46f" stroke="#fff" stroke-width="1.5"/>
<rect x="715.7" y="810.2" width="22" height="55.6" fill="#c1d671" stroke="#fff" stroke-width="1.5"/>
<path d="M536.6 865.8h9.8M536.6 846.6h9.8M536.6 827.3h9.8M536.6 808.1h9.8M536.6 788.9h9.8M536.6 769.6h9.8M536.6 750.4h9.8M536.6 731.2h9.8M536.6 712h9.8M536.6 692.7h9.8M536.6 673.5h9.8M561.7 868.4v8.8M589.2 868.4v8.8M616.7 868.4v8.8M644.2 868.4v8.8M671.7 868.4v8.8M699.2 868.4v8.8M726.7 868.4v8.8" stroke="#000" stroke-width="2.2" fill="none"/>
<g class="t" text-anchor="end"><text x="527.7" y="680.3">100</text><text x="527.7" y="776.4">50</text><text x="527.7" y="872.6">0</text></g>
<g class="t" text-anchor="middle"><text x="561.7" y="899.4">1</text><text x="589.2" y="899.4">2</text><text x="616.7" y="899.4">3</text><text x="644.2" y="899.4">4</text><text x="671.7" y="899.4">5</text><text x="699.2" y="899.4">6</text><text x="726.7" y="899.4">7</text></g>
</g>
<g>
<path d="M1266 786.8L1303.9 823.8" stroke="#000" stroke-width="2.2" fill="none"/>
<path d="M1303.9 806.5L1321.2 823.8L1303.9 841.1L1286.6 823.8Z" fill="#000"/>
<rect x="1075" y="593.5" width="190" height="192.3" fill="#eaeaf2" stroke="#fff" stroke-width="2"/>
<path d="M1075 766.6H1265M1075 747.3H1265M1075 728.1H1265M1075 708.9H1265M1075 670.4H1265M1075 651.2H1265M1075 632H1265M1075 612.7H1265" stroke="#fff" stroke-width="2.1" fill="none"/>
<path d="M1076 689.6H1264" stroke="#fff" stroke-width="2.6" fill="none"/>
<path d="M1076 689.6H1264" stroke="#a4a4a8" stroke-width="1.5" fill="none"/>
<rect x="1076.5" y="679.5" width="22" height="106.3" fill="#ec8a7f" stroke="#fff" stroke-width="1.5"/>
<rect x="1104" y="735.6" width="22" height="50.2" fill="#c4d771" stroke="#fff" stroke-width="1.5"/>
<rect x="1131.5" y="707.3" width="22" height="78.5" fill="#afcd70" stroke="#fff" stroke-width="1.5"/>
<rect x="1159" y="732.5" width="22" height="53.3" fill="#c2d671" stroke="#fff" stroke-width="1.5"/>
<rect x="1186.5" y="715" width="22" height="70.8" fill="#b5d070" stroke="#fff" stroke-width="1.5"/>
<rect x="1214" y="693.7" width="22" height="92.1" fill="#a3c86f" stroke="#fff" stroke-width="1.5"/>
<rect x="1241.5" y="751" width="22" height="34.8" fill="#d0dd72" stroke="#fff" stroke-width="1.5"/>
<path d="M1062.4 785.8h9.8M1062.4 766.6h9.8M1062.4 747.3h9.8M1062.4 728.1h9.8M1062.4 708.9h9.8M1062.4 689.6h9.8M1062.4 670.4h9.8M1062.4 651.2h9.8M1062.4 632h9.8M1062.4 612.7h9.8M1062.4 593.5h9.8M1087.5 788.4v8.8M1115 788.4v8.8M1142.5 788.4v8.8M1170 788.4v8.8M1197.5 788.4v8.8M1225 788.4v8.8M1252.5 788.4v8.8" stroke="#000" stroke-width="2.2" fill="none"/>
<g class="t" text-anchor="end"><text x="1053.5" y="600.3">100</text><text x="1053.5" y="696.4">50</text><text x="1053.5" y="792.6">0</text></g>
<g class="t" text-anchor="middle"><text x="1087.5" y="819.4">1</text><text x="1115" y="819.4">2</text><text x="1142.5" y="819.4">3</text><text x="1170" y="819.4">4</text><text x="1197.5" y="819.4">5</text><text x="1225" y="819.4">6</text><text x="1252.5" y="819.4">7</text></g>
</g>
<g>
<path d="M1548.9 897.5L1511 934.5" stroke="#000" stroke-width="2.2" fill="none"/>
<path d="M1511 917.2L1528.3 934.5L1511 951.8L1493.7 934.5Z" fill="#000"/>
<rect x="1549.9" y="704.2" width="190" height="192.3" fill="#eaeaf2" stroke="#fff" stroke-width="2"/>
<path d="M1549.9 877.3H1739.9M1549.9 858H1739.9M1549.9 838.8H1739.9M1549.9 819.6H1739.9M1549.9 781.1H1739.9M1549.9 761.9H1739.9M1549.9 742.7H1739.9M1549.9 723.4H1739.9" stroke="#fff" stroke-width="2.1" fill="none"/>
<path d="M1550.9 800.4H1738.9" stroke="#fff" stroke-width="2.6" fill="none"/>
<path d="M1550.9 800.4H1738.9" stroke="#a4a4a8" stroke-width="1.5" fill="none"/>
<rect x="1551.4" y="753.8" width="22" height="142.7" fill="#ec8a7f" stroke="#fff" stroke-width="1.5"/>
<rect x="1578.9" y="750.2" width="22" height="146.3" fill="#7db26d" stroke="#fff" stroke-width="1.5"/>
<rect x="1606.4" y="728.6" width="22" height="167.9" fill="#6da96c" stroke="#fff" stroke-width="1.5"/>
<rect x="1633.9" y="770.2" width="22" height="126.3" fill="#8bba6e" stroke="#fff" stroke-width="1.5"/>
<rect x="1661.4" y="814.8" width="22" height="81.7" fill="#accc70" stroke="#fff" stroke-width="1.5"/>
<rect x="1688.9" y="786.7" width="22" height="109.8" fill="#96c06e" stroke="#fff" stroke-width="1.5"/>
<rect x="1716.4" y="803.2" width="22" height="93.3" fill="#a2c76f" stroke="#fff" stroke-width="1.5"/>
<path d="M1537.3 896.5h9.8M1537.3 877.3h9.8M1537.3 858h9.8M1537.3 838.8h9.8M1537.3 819.6h9.8M1537.3 800.4h9.8M1537.3 781.1h9.8M1537.3 761.9h9.8M1537.3 742.7h9.8M1537.3 723.4h9.8M1537.3 704.2h9.8M1562.4 899.1v8.8M1589.9 899.1v8.8M1617.4 899.1v8.8M1644.9 899.1v8.8M1672.4 899.1v8.8M1699.9 899.1v8.8M1727.4 899.1v8.8" stroke="#000" stroke-width="2.2" fill="none"/>
<g class="t" text-anchor="end"><text x="1528.4" y="711">100</text><text x="1528.4" y="807.1">50</text><text x="1528.4" y="903.3">0</text></g>
<g class="t" text-anchor="middle"><text x="1562.4" y="930.1">1</text><text x="1589.9" y="930.1">2</text><text x="1617.4" y="930.1">3</text><text x="1644.9" y="930.1">4</text><text x="1672.4" y="930.1">5</text><text x="1699.9" y="930.1">6</text><text x="1727.4" y="930.1">7</text></g>
</g>
<g>
<path d="M601.2 1097.1L563.3 1134.1" stroke="#000" stroke-width="2.2" fill="none"/>
<path d="M563.3 1116.8L580.6 1134.1L563.3 1151.4L546 1134.1Z" fill="#000"/>
<rect x="602.2" y="903.8" width="190" height="192.3" fill="#eaeaf2" stroke="#fff" stroke-width="2"/>
<path d="M602.2 1076.9H792.2M602.2 1057.6H792.2M602.2 1038.4H792.2M602.2 1019.2H792.2M602.2 980.7H792.2M602.2 961.5H792.2M602.2 942.3H792.2M602.2 923H792.2" stroke="#fff" stroke-width="2.1" fill="none"/>
<path d="M603.2 999.9H791.2" stroke="#fff" stroke-width="2.6" fill="none"/>
<path d="M603.2 999.9H791.2" stroke="#a4a4a8" stroke-width="1.5" fill="none"/>
<rect x="603.7" y="959.8" width="22" height="136.3" fill="#ec8a7f" stroke="#fff" stroke-width="1.5"/>
<rect x="631.2" y="1019.8" width="22" height="76.3" fill="#b0ce70" stroke="#fff" stroke-width="1.5"/>
<rect x="658.7" y="956.9" width="22" height="139.2" fill="#82b56e" stroke="#fff" stroke-width="1.5"/>
<rect x="686.2" y="916.3" width="22" height="179.8" fill="#64a56c" stroke="#fff" stroke-width="1.5"/>
<rect x="713.7" y="963.8" width="22" height="132.3" fill="#87b86e" stroke="#fff" stroke-width="1.5"/>
<rect x="741.2" y="970.3" width="22" height="125.8" fill="#8bba6e" stroke="#fff" stroke-width="1.5"/>
<rect x="768.7" y="941.7" width="22" height="154.4" fill="#78af6d" stroke="#fff" stroke-width="1.5"/>
<path d="M589.6 1096.1h9.8M589.6 1076.9h9.8M589.6 1057.6h9.8M589.6 1038.4h9.8M589.6 1019.2h9.8M589.6 999.9h9.8M589.6 980.7h9.8M589.6 961.5h9.8M589.6 942.3h9.8M589.6 923h9.8M589.6 903.8h9.8M614.7 1098.7v8.8M642.2 1098.7v8.8M669.7 1098.7v8.8M697.2 1098.7v8.8M724.7 1098.7v8.8M752.2 1098.7v8.8M779.7 1098.7v8.8" stroke="#000" stroke-width="2.2" fill="none"/>
<g class="t" text-anchor="end"><text x="580.7" y="910.6">100</text><text x="580.7" y="1006.7">50</text><text x="580.7" y="1102.9">0</text></g>
<g class="t" text-anchor="middle"><text x="614.7" y="1129.7">1</text><text x="642.2" y="1129.7">2</text><text x="669.7" y="1129.7">3</text><text x="697.2" y="1129.7">4</text><text x="724.7" y="1129.7">5</text><text x="752.2" y="1129.7">6</text><text x="779.7" y="1129.7">7</text></g>
</g>
<g>
<path d="M869 1064.8L831.1 1101.8" stroke="#000" stroke-width="2.2" fill="none"/>
<path d="M831.1 1084.5L848.4 1101.8L831.1 1119.1L813.8 1101.8Z" fill="#000"/>
<rect x="870" y="871.5" width="190" height="192.3" fill="#eaeaf2" stroke="#fff" stroke-width="2"/>
<path d="M870 1044.6H1060M870 1025.3H1060M870 1006.1H1060M870 986.9H1060M870 948.4H1060M870 929.2H1060M870 910H1060M870 890.7H1060" stroke="#fff" stroke-width="2.1" fill="none"/>
<path d="M871 967.6H1059" stroke="#fff" stroke-width="2.6" fill="none"/>
<path d="M871 967.6H1059" stroke="#a4a4a8" stroke-width="1.5" fill="none"/>
<rect x="871.5" y="910.9" width="22" height="152.9" fill="#ec8a7f" stroke="#fff" stroke-width="1.5"/>
<rect x="899" y="939.6" width="22" height="124.2" fill="#8cbb6e" stroke="#fff" stroke-width="1.5"/>
<rect x="926.5" y="909.8" width="22" height="154" fill="#78af6d" stroke="#fff" stroke-width="1.5"/>
<rect x="954" y="892.3" width="22" height="171.5" fill="#6aa86c" stroke="#fff" stroke-width="1.5"/>
<rect x="981.5" y="935.9" width="22" height="127.9" fill="#8ab96e" stroke="#fff" stroke-width="1.5"/>
<rect x="1009" y="935" width="22" height="128.8" fill="#89b96e" stroke="#fff" stroke-width="1.5"/>
<rect x="1036.5" y="912.8" width="22" height="151" fill="#7ab06d" stroke="#fff" stroke-width="1.5"/>
<path d="M857.4 1063.8h9.8M857.4 1044.6h9.8M857.4 1025.3h9.8M857.4 1006.1h9.8M857.4 986.9h9.8M857.4 967.6h9.8M857.4 948.4h9.8M857.4 929.2h9.8M857.4 910h9.8M857.4 890.7h9.8M857.4 871.5h9.8M882.5 1066.4v8.8M910 1066.4v8.8M937.5 1066.4v8.8M965 1066.4v8.8M992.5 1066.4v8.8M1020 1066.4v8.8M1047.5 1066.4v8.8" stroke="#000" stroke-width="2.2" fill="none"/>
<g class="t" text-anchor="end"><text x="848.5" y="878.3">100</text><text x="848.5" y="974.4">50</text><text x="848.5" y="1070.6">0</text></g>
<g class="t" text-anchor="middle"><text x="882.5" y="1097.4">1</text><text x="910" y="1097.4">2</text><text x="937.5" y="1097.4">3</text><text x="965" y="1097.4">4</text><text x="992.5" y="1097.4">5</text><text x="1020" y="1097.4">6</text><text x="1047.5" y="1097.4">7</text></g>
</g>
<g>
<path d="M1576 1156.8L1538.1 1193.8" stroke="#000" stroke-width="2.2" fill="none"/>
<path d="M1538.1 1176.5L1555.4 1193.8L1538.1 1211.1L1520.8 1193.8Z" fill="#000"/>
<rect x="1577" y="963.5" width="190" height="192.3" fill="#eaeaf2" stroke="#fff" stroke-width="2"/>
<path d="M1577 1136.6H1767M1577 1117.3H1767M1577 1098.1H1767M1577 1078.9H1767M1577 1040.4H1767M1577 1021.2H1767M1577 1002H1767M1577 982.7H1767" stroke="#fff" stroke-width="2.1" fill="none"/>
<path d="M1578 1059.6H1766" stroke="#fff" stroke-width="2.6" fill="none"/>
<path d="M1578 1059.6H1766" stroke="#a4a4a8" stroke-width="1.5" fill="none"/>
<rect x="1578.5" y="992.3" width="22" height="163.5" fill="#ec8a7f" stroke="#fff" stroke-width="1.5"/>
<rect x="1606" y="1025.6" width="22" height="130.2" fill="#88b96e" stroke="#fff" stroke-width="1.5"/>
<rect x="1633.5" y="1004.8" width="22" height="151" fill="#7ab06d" stroke="#fff" stroke-width="1.5"/>
<rect x="1661" y="997.3" width="22" height="158.5" fill="#74ad6d" stroke="#fff" stroke-width="1.5"/>
<rect x="1688.5" y="1020.4" width="22" height="135.4" fill="#84b76e" stroke="#fff" stroke-width="1.5"/>
<rect x="1716" y="1028.1" width="22" height="127.7" fill="#8aba6e" stroke="#fff" stroke-width="1.5"/>
<rect x="1743.5" y="1012.3" width="22" height="143.5" fill="#7fb36e" stroke="#fff" stroke-width="1.5"/>
<path d="M1564.4 1155.8h9.8M1564.4 1136.6h9.8M1564.4 1117.3h9.8M1564.4 1098.1h9.8M1564.4 1078.9h9.8M1564.4 1059.6h9.8M1564.4 1040.4h9.8M1564.4 1021.2h9.8M1564.4 1002h9.8M1564.4 982.7h9.8M1564.4 963.5h9.8M1589.5 1158.4v8.8M1617 1158.4v8.8M1644.5 1158.4v8.8M1672 1158.4v8.8M1699.5 1158.4v8.8M1727 1158.4v8.8M1754.5 1158.4v8.8" stroke="#000" stroke-width="2.2" fill="none"/>
<g class="t" text-anchor="end"><text x="1555.5" y="970.3">100</text><text x="1555.5" y="1066.4">50</text><text x="1555.5" y="1162.6">0</text></g>
<g class="t" text-anchor="middle"><text x="1589.5" y="1189.4">1</text><text x="1617" y="1189.4">2</text><text x="1644.5" y="1189.4">3</text><text x="1672" y="1189.4">4</text><text x="1699.5" y="1189.4">5</text><text x="1727" y="1189.4">6</text><text x="1754.5" y="1189.4">7</text></g>
</g>
<g>
<path d="M499.3 1253.5L537.2 1290.5" stroke="#000" stroke-width="2.2" fill="none"/>
<path d="M537.2 1273.2L554.5 1290.5L537.2 1307.8L519.9 1290.5Z" fill="#000"/>
<rect x="308.3" y="1060.2" width="190" height="192.3" fill="#eaeaf2" stroke="#fff" stroke-width="2"/>
<path d="M308.3 1233.3H498.3M308.3 1214H498.3M308.3 1194.8H498.3M308.3 1175.6H498.3M308.3 1137.1H498.3M308.3 1117.9H498.3M308.3 1098.7H498.3M308.3 1079.4H498.3" stroke="#fff" stroke-width="2.1" fill="none"/>
<path d="M309.3 1156.3H497.3" stroke="#fff" stroke-width="2.6" fill="none"/>
<path d="M309.3 1156.3H497.3" stroke="#a4a4a8" stroke-width="1.5" fill="none"/>
<rect x="309.8" y="1181.3" width="22" height="71.2" fill="#ec8a7f" stroke="#fff" stroke-width="1.5"/>
<rect x="337.3" y="1214.2" width="22" height="38.3" fill="#cddb72" stroke="#fff" stroke-width="1.5"/>
<rect x="364.8" y="1181.7" width="22" height="70.8" fill="#b5d070" stroke="#fff" stroke-width="1.5"/>
<rect x="392.3" y="1184" width="22" height="68.5" fill="#b7d170" stroke="#fff" stroke-width="1.5"/>
<rect x="419.8" y="1203.3" width="22" height="49.2" fill="#c5d871" stroke="#fff" stroke-width="1.5"/>
<rect x="447.3" y="1164" width="22" height="88.5" fill="#a6c96f" stroke="#fff" stroke-width="1.5"/>
<rect x="474.8" y="1228.3" width="22" height="24.2" fill="#d9e172" stroke="#fff" stroke-width="1.5"/>
<path d="M295.7 1252.5h9.8M295.7 1233.3h9.8M295.7 1214h9.8M295.7 1194.8h9.8M295.7 1175.6h9.8M295.7 1156.3h9.8M295.7 1137.1h9.8M295.7 1117.9h9.8M295.7 1098.7h9.8M295.7 1079.4h9.8M295.7 1060.2h9.8M320.8 1255.1v8.8M348.3 1255.1v8.8M375.8 1255.1v8.8M403.3 1255.1v8.8M430.8 1255.1v8.8M458.3 1255.1v8.8M485.8 1255.1v8.8" stroke="#000" stroke-width="2.2" fill="none"/>
<g class="t" text-anchor="end"><text x="286.8" y="1067">100</text><text x="286.8" y="1163.1">50</text><text x="286.8" y="1259.3">0</text></g>
<g class="t" text-anchor="middle"><text x="320.8" y="1286.1">1</text><text x="348.3" y="1286.1">2</text><text x="375.8" y="1286.1">3</text><text x="403.3" y="1286.1">4</text><text x="430.8" y="1286.1">5</text><text x="458.3" y="1286.1">6</text><text x="485.8" y="1286.1">7</text></g>
</g>
<g>
<path d="M639.4 1372.8L601.5 1409.8" stroke="#000" stroke-width="2.2" fill="none"/>
<path d="M601.5 1392.5L618.8 1409.8L601.5 1427.1L584.2 1409.8Z" fill="#000"/>
<rect x="640.4" y="1179.5" width="190" height="192.3" fill="#eaeaf2" stroke="#fff" stroke-width="2"/>
<path d="M640.4 1352.6H830.4M640.4 1333.3H830.4M640.4 1314.1H830.4M640.4 1294.9H830.4M640.4 1256.4H830.4M640.4 1237.2H830.4M640.4 1218H830.4M640.4 1198.7H830.4" stroke="#fff" stroke-width="2.1" fill="none"/>
<path d="M641.4 1275.6H829.4" stroke="#fff" stroke-width="2.6" fill="none"/>
<path d="M641.4 1275.6H829.4" stroke="#a4a4a8" stroke-width="1.5" fill="none"/>
<rect x="641.9" y="1220.1" width="22" height="151.7" fill="#ec8a7f" stroke="#fff" stroke-width="1.5"/>
<rect x="669.4" y="1243" width="22" height="128.8" fill="#89b96e" stroke="#fff" stroke-width="1.5"/>
<rect x="696.9" y="1198.7" width="22" height="173.1" fill="#69a76c" stroke="#fff" stroke-width="1.5"/>
<rect x="724.4" y="1210.1" width="22" height="161.7" fill="#72ac6d" stroke="#fff" stroke-width="1.5"/>
<rect x="751.9" y="1244.3" width="22" height="127.5" fill="#8aba6e" stroke="#fff" stroke-width="1.5"/>
<rect x="779.4" y="1238.5" width="22" height="133.3" fill="#86b76e" stroke="#fff" stroke-width="1.5"/>
<rect x="806.9" y="1211.2" width="22" height="160.6" fill="#73ac6d" stroke="#fff" stroke-width="1.5"/>
<path d="M627.8 1371.8h9.8M627.8 1352.6h9.8M627.8 1333.3h9.8M627.8 1314.1h9.8M627.8 1294.9h9.8M627.8 1275.6h9.8M627.8 1256.4h9.8M627.8 1237.2h9.8M627.8 1218h9.8M627.8 1198.7h9.8M627.8 1179.5h9.8M652.9 1374.4v8.8M680.4 1374.4v8.8M707.9 1374.4v8.8M735.4 1374.4v8.8M762.9 1374.4v8.8M790.4 1374.4v8.8M817.9 1374.4v8.8" stroke="#000" stroke-width="2.2" fill="none"/>
<g class="t" text-anchor="end"><text x="618.9" y="1186.3">100</text><text x="618.9" y="1282.4">50</text><text x="618.9" y="1378.6">0</text></g>
<g class="t" text-anchor="middle"><text x="652.9" y="1405.4">1</text><text x="680.4" y="1405.4">2</text><text x="707.9" y="1405.4">3</text><text x="735.4" y="1405.4">4</text><text x="762.9" y="1405.4">5</text><text x="790.4" y="1405.4">6</text><text x="817.9" y="1405.4">7</text></g>
</g>
<g>
<path d="M895.7 1395.7L857.8 1432.7" stroke="#000" stroke-width="2.2" fill="none"/>
<path d="M857.8 1415.4L875.1 1432.7L857.8 1450L840.5 1432.7Z" fill="#000"/>
<rect x="896.7" y="1202.4" width="190" height="192.3" fill="#eaeaf2" stroke="#fff" stroke-width="2"/>
<path d="M896.7 1375.5H1086.7M896.7 1356.2H1086.7M896.7 1337H1086.7M896.7 1317.8H1086.7M896.7 1279.3H1086.7M896.7 1260.1H1086.7M896.7 1240.9H1086.7M896.7 1221.6H1086.7" stroke="#fff" stroke-width="2.1" fill="none"/>
<path d="M897.7 1298.5H1085.7" stroke="#fff" stroke-width="2.6" fill="none"/>
<path d="M897.7 1298.5H1085.7" stroke="#a4a4a8" stroke-width="1.5" fill="none"/>
<rect x="898.2" y="1315.7" width="22" height="79" fill="#ec8a7f" stroke="#fff" stroke-width="1.5"/>
<rect x="925.7" y="1365.5" width="22" height="29.2" fill="#d5df72" stroke="#fff" stroke-width="1.5"/>
<rect x="953.2" y="1357.2" width="22" height="37.5" fill="#cedb72" stroke="#fff" stroke-width="1.5"/>
<rect x="980.7" y="1359.1" width="22" height="35.6" fill="#cfdc72" stroke="#fff" stroke-width="1.5"/>
<rect x="1008.2" y="1330.7" width="22" height="64" fill="#bad371" stroke="#fff" stroke-width="1.5"/>
<rect x="1035.7" y="1294.9" width="22" height="99.8" fill="#9dc46f" stroke="#fff" stroke-width="1.5"/>
<rect x="1063.2" y="1334.1" width="22" height="60.6" fill="#bdd471" stroke="#fff" stroke-width="1.5"/>
<path d="M884.1 1394.7h9.8M884.1 1375.5h9.8M884.1 1356.2h9.8M884.1 1337h9.8M884.1 1317.8h9.8M884.1 1298.5h9.8M884.1 1279.3h9.8M884.1 1260.1h9.8M884.1 1240.9h9.8M884.1 1221.6h9.8M884.1 1202.4h9.8M909.2 1397.3v8.8M936.7 1397.3v8.8M964.2 1397.3v8.8M991.7 1397.3v8.8M1019.2 1397.3v8.8M1046.7 1397.3v8.8M1074.2 1397.3v8.8" stroke="#000" stroke-width="2.2" fill="none"/>
<g class="t" text-anchor="end"><text x="875.2" y="1209.2">100</text><text x="875.2" y="1305.3">50</text><text x="875.2" y="1401.5">0</text></g>
<g class="t" text-anchor="middle"><text x="909.2" y="1428.3">1</text><text x="936.7" y="1428.3">2</text><text x="964.2" y="1428.3">3</text><text x="991.7" y="1428.3">4</text><text x="1019.2" y="1428.3">5</text><text x="1046.7" y="1428.3">6</text><text x="1074.2" y="1428.3">7</text></g>
</g>
<g>
<path d="M1324.2 1286.8L1362.1 1323.8" stroke="#000" stroke-width="2.2" fill="none"/>
<path d="M1362.1 1306.5L1379.4 1323.8L1362.1 1341.1L1344.8 1323.8Z" fill="#000"/>
<rect x="1133.2" y="1093.5" width="190" height="192.3" fill="#eaeaf2" stroke="#fff" stroke-width="2"/>
<path d="M1133.2 1266.6H1323.2M1133.2 1247.3H1323.2M1133.2 1228.1H1323.2M1133.2 1208.9H1323.2M1133.2 1170.4H1323.2M1133.2 1151.2H1323.2M1133.2 1132H1323.2M1133.2 1112.7H1323.2" stroke="#fff" stroke-width="2.1" fill="none"/>
<path d="M1134.2 1189.6H1322.2" stroke="#fff" stroke-width="2.6" fill="none"/>
<path d="M1134.2 1189.6H1322.2" stroke="#a4a4a8" stroke-width="1.5" fill="none"/>
<rect x="1134.7" y="1202.1" width="22" height="83.7" fill="#ec8a7f" stroke="#fff" stroke-width="1.5"/>
<rect x="1162.2" y="1254.5" width="22" height="31.3" fill="#d3de72" stroke="#fff" stroke-width="1.5"/>
<rect x="1189.7" y="1237.5" width="22" height="48.3" fill="#c6d871" stroke="#fff" stroke-width="1.5"/>
<rect x="1217.2" y="1275" width="22" height="10.8" fill="#e2e571" stroke="#fff" stroke-width="1.5"/>
<rect x="1244.7" y="1231.6" width="22" height="54.2" fill="#c2d671" stroke="#fff" stroke-width="1.5"/>
<rect x="1272.2" y="1194.5" width="22" height="91.3" fill="#a4c86f" stroke="#fff" stroke-width="1.5"/>
<rect x="1299.7" y="1264.8" width="22" height="21" fill="#dce272" stroke="#fff" stroke-width="1.5"/>
<path d="M1120.6 1285.8h9.8M1120.6 1266.6h9.8M1120.6 1247.3h9.8M1120.6 1228.1h9.8M1120.6 1208.9h9.8M1120.6 1189.6h9.8M1120.6 1170.4h9.8M1120.6 1151.2h9.8M1120.6 1132h9.8M1120.6 1112.7h9.8M1120.6 1093.5h9.8M1145.7 1288.4v8.8M1173.2 1288.4v8.8M1200.7 1288.4v8.8M1228.2 1288.4v8.8M1255.7 1288.4v8.8M1283.2 1288.4v8.8M1310.7 1288.4v8.8" stroke="#000" stroke-width="2.2" fill="none"/>
<g class="t" text-anchor="end"><text x="1111.7" y="1100.3">100</text><text x="1111.7" y="1196.4">50</text><text x="1111.7" y="1292.6">0</text></g>
<g class="t" text-anchor="middle"><text x="1145.7" y="1319.4">1</text><text x="1173.2" y="1319.4">2</text><text x="1200.7" y="1319.4">3</text><text x="1228.2" y="1319.4">4</text><text x="1255.7" y="1319.4">5</text><text x="1283.2" y="1319.4">6</text><text x="1310.7" y="1319.4">7</text></g>
</g>
<g>
<path d="M272.1 1632.4L234.2 1669.4" stroke="#000" stroke-width="2.2" fill="none"/>
<path d="M234.2 1652.1L251.5 1669.4L234.2 1686.7L216.9 1669.4Z" fill="#000"/>
<rect x="273.1" y="1439.1" width="190" height="192.3" fill="#eaeaf2" stroke="#fff" stroke-width="2"/>
<path d="M273.1 1612.2H463.1M273.1 1592.9H463.1M273.1 1573.7H463.1M273.1 1554.5H463.1M273.1 1516H463.1M273.1 1496.8H463.1M273.1 1477.6H463.1M273.1 1458.3H463.1" stroke="#fff" stroke-width="2.1" fill="none"/>
<path d="M274.1 1535.2H462.1" stroke="#fff" stroke-width="2.6" fill="none"/>
<path d="M274.1 1535.2H462.1" stroke="#a4a4a8" stroke-width="1.5" fill="none"/>
<rect x="274.6" y="1519.7" width="22" height="111.7" fill="#ec8a7f" stroke="#fff" stroke-width="1.5"/>
<rect x="302.1" y="1566" width="22" height="65.4" fill="#b9d271" stroke="#fff" stroke-width="1.5"/>
<rect x="329.6" y="1532.9" width="22" height="98.5" fill="#9ec56f" stroke="#fff" stroke-width="1.5"/>
<rect x="357.1" y="1518.5" width="22" height="112.9" fill="#94bf6e" stroke="#fff" stroke-width="1.5"/>
<rect x="384.6" y="1529.9" width="22" height="101.5" fill="#9cc46f" stroke="#fff" stroke-width="1.5"/>
<rect x="412.1" y="1520.1" width="22" height="111.3" fill="#95c06e" stroke="#fff" stroke-width="1.5"/>
<rect x="439.6" y="1558.5" width="22" height="72.9" fill="#b3cf70" stroke="#fff" stroke-width="1.5"/>
<path d="M260.5 1631.4h9.8M260.5 1612.2h9.8M260.5 1592.9h9.8M260.5 1573.7h9.8M260.5 1554.5h9.8M260.5 1535.2h9.8M260.5 1516h9.8M260.5 1496.8h9.8M260.5 1477.6h9.8M260.5 1458.3h9.8M260.5 1439.1h9.8M285.6 1634v8.8M313.1 1634v8.8M340.6 1634v8.8M368.1 1634v8.8M395.6 1634v8.8M423.1 1634v8.8M450.6 1634v8.8" stroke="#000" stroke-width="2.2" fill="none"/>
<g class="t" text-anchor="end"><text x="251.6" y="1445.9">100</text><text x="251.6" y="1542">50</text><text x="251.6" y="1638.2">0</text></g>
<g class="t" text-anchor="middle"><text x="285.6" y="1665">1</text><text x="313.1" y="1665">2</text><text x="340.6" y="1665">3</text><text x="368.1" y="1665">4</text><text x="395.6" y="1665">5</text><text x="423.1" y="1665">6</text><text x="450.6" y="1665">7</text></g>
</g>
<g>
<path d="M811 1564.6L848.9 1527.6" stroke="#000" stroke-width="2.2" fill="none"/>
<path d="M848.9 1510.3L866.2 1527.6L848.9 1544.9L831.6 1527.6Z" fill="#000"/>
<rect x="620" y="1565.6" width="190" height="192.3" fill="#eaeaf2" stroke="#fff" stroke-width="2"/>
<path d="M620 1738.7H810M620 1719.4H810M620 1700.2H810M620 1681H810M620 1642.5H810M620 1623.3H810M620 1604.1H810M620 1584.8H810" stroke="#fff" stroke-width="2.1" fill="none"/>
<path d="M621 1661.7H809" stroke="#fff" stroke-width="2.6" fill="none"/>
<path d="M621 1661.7H809" stroke="#a4a4a8" stroke-width="1.5" fill="none"/>
<rect x="621.5" y="1727.3" width="22" height="30.6" fill="#ec8a7f" stroke="#fff" stroke-width="1.5"/>
<rect x="649" y="1757.3" width="22" height="0.6" fill="#e8e870" stroke="#fff" stroke-width="1.5"/>
<rect x="676.5" y="1753.9" width="22" height="4" fill="#e6e770" stroke="#fff" stroke-width="1.5"/>
<rect x="704" y="1755.4" width="22" height="2.5" fill="#e7e770" stroke="#fff" stroke-width="1.5"/>
<rect x="731.5" y="1750.4" width="22" height="7.5" fill="#e4e671" stroke="#fff" stroke-width="1.5"/>
<rect x="759" y="1694.1" width="22" height="63.8" fill="#bad371" stroke="#fff" stroke-width="1.5"/>
<path d="M607.4 1757.9h9.8M607.4 1738.7h9.8M607.4 1719.4h9.8M607.4 1700.2h9.8M607.4 1681h9.8M607.4 1661.7h9.8M607.4 1642.5h9.8M607.4 1623.3h9.8M607.4 1604.1h9.8M607.4 1584.8h9.8M607.4 1565.6h9.8M632.5 1760.5v8.8M660 1760.5v8.8M687.5 1760.5v8.8M715 1760.5v8.8M742.5 1760.5v8.8M770 1760.5v8.8M797.5 1760.5v8.8" stroke="#000" stroke-width="2.2" fill="none"/>
<g class="t" text-anchor="end"><text x="598.5" y="1572.4">100</text><text x="598.5" y="1668.5">50</text><text x="598.5" y="1764.7">0</text></g>
<g class="t" text-anchor="middle"><text x="632.5" y="1791.5">1</text><text x="660" y="1791.5">2</text><text x="687.5" y="1791.5">3</text><text x="715" y="1791.5">4</text><text x="742.5" y="1791.5">5</text><text x="770" y="1791.5">6</text><text x="797.5" y="1791.5">7</text></g>
</g>
<g>
<path d="M1237 1421.2L1199.1 1384.2" stroke="#000" stroke-width="2.2" fill="none"/>
<path d="M1199.1 1366.9L1216.4 1384.2L1199.1 1401.5L1181.8 1384.2Z" fill="#000"/>
<rect x="1238" y="1422.2" width="190" height="192.3" fill="#eaeaf2" stroke="#fff" stroke-width="2"/>
<path d="M1238 1595.3H1428M1238 1576H1428M1238 1556.8H1428M1238 1537.6H1428M1238 1499.1H1428M1238 1479.9H1428M1238 1460.7H1428M1238 1441.4H1428" stroke="#fff" stroke-width="2.1" fill="none"/>
<path d="M1239 1518.3H1427" stroke="#fff" stroke-width="2.6" fill="none"/>
<path d="M1239 1518.3H1427" stroke="#a4a4a8" stroke-width="1.5" fill="none"/>
<rect x="1239.5" y="1492.6" width="22" height="121.9" fill="#ec8a7f" stroke="#fff" stroke-width="1.5"/>
<rect x="1267" y="1563.5" width="22" height="51" fill="#c4d771" stroke="#fff" stroke-width="1.5"/>
<rect x="1294.5" y="1518.3" width="22" height="96.2" fill="#a0c66f" stroke="#fff" stroke-width="1.5"/>
<rect x="1322" y="1501.2" width="22" height="113.3" fill="#94bf6e" stroke="#fff" stroke-width="1.5"/>
<rect x="1349.5" y="1512.8" width="22" height="101.7" fill="#9cc46f" stroke="#fff" stroke-width="1.5"/>
<rect x="1377" y="1504.9" width="22" height="109.6" fill="#96c06e" stroke="#fff" stroke-width="1.5"/>
<rect x="1404.5" y="1521.2" width="22" height="93.3" fill="#a2c76f" stroke="#fff" stroke-width="1.5"/>
<path d="M1225.4 1614.5h9.8M1225.4 1595.3h9.8M1225.4 1576h9.8M1225.4 1556.8h9.8M1225.4 1537.6h9.8M1225.4 1518.3h9.8M1225.4 1499.1h9.8M1225.4 1479.9h9.8M1225.4 1460.7h9.8M1225.4 1441.4h9.8M1225.4 1422.2h9.8M1250.5 1617.1v8.8M1278 1617.1v8.8M1305.5 1617.1v8.8M1333 1617.1v8.8M1360.5 1617.1v8.8M1388 1617.1v8.8M1415.5 1617.1v8.8" stroke="#000" stroke-width="2.2" fill="none"/>
<g class="t" text-anchor="end"><text x="1216.5" y="1429">100</text><text x="1216.5" y="1525.1">50</text><text x="1216.5" y="1621.3">0</text></g>
<g class="t" text-anchor="middle"><text x="1250.5" y="1648.1">1</text><text x="1278" y="1648.1">2</text><text x="1305.5" y="1648.1">3</text><text x="1333" y="1648.1">4</text><text x="1360.5" y="1648.1">5</text><text x="1388" y="1648.1">6</text><text x="1415.5" y="1648.1">7</text></g>
</g>
<g>
<path d="M1492.1 1505.7L1454.2 1468.7" stroke="#000" stroke-width="2.2" fill="none"/>
<path d="M1454.2 1451.4L1471.5 1468.7L1454.2 1486L1436.9 1468.7Z" fill="#000"/>
<rect x="1493.1" y="1506.7" width="190" height="192.3" fill="#eaeaf2" stroke="#fff" stroke-width="2"/>
<path d="M1493.1 1679.8H1683.1M1493.1 1660.5H1683.1M1493.1 1641.3H1683.1M1493.1 1622.1H1683.1M1493.1 1583.6H1683.1M1493.1 1564.4H1683.1M1493.1 1545.2H1683.1M1493.1 1525.9H1683.1" stroke="#fff" stroke-width="2.1" fill="none"/>
<path d="M1494.1 1602.8H1682.1" stroke="#fff" stroke-width="2.6" fill="none"/>
<path d="M1494.1 1602.8H1682.1" stroke="#a4a4a8" stroke-width="1.5" fill="none"/>
<rect x="1494.6" y="1585.5" width="22" height="113.5" fill="#ec8a7f" stroke="#fff" stroke-width="1.5"/>
<rect x="1522.1" y="1673.4" width="22" height="25.6" fill="#d8e072" stroke="#fff" stroke-width="1.5"/>
<rect x="1549.6" y="1644.4" width="22" height="54.6" fill="#c1d671" stroke="#fff" stroke-width="1.5"/>
<rect x="1577.1" y="1570" width="22" height="129" fill="#89b96e" stroke="#fff" stroke-width="1.5"/>
<rect x="1604.6" y="1658.8" width="22" height="40.2" fill="#ccda72" stroke="#fff" stroke-width="1.5"/>
<rect x="1632.1" y="1604.8" width="22" height="94.2" fill="#a2c76f" stroke="#fff" stroke-width="1.5"/>
<rect x="1659.6" y="1640.9" width="22" height="58.1" fill="#bfd571" stroke="#fff" stroke-width="1.5"/>
<path d="M1480.5 1699h9.8M1480.5 1679.8h9.8M1480.5 1660.5h9.8M1480.5 1641.3h9.8M1480.5 1622.1h9.8M1480.5 1602.8h9.8M1480.5 1583.6h9.8M1480.5 1564.4h9.8M1480.5 1545.2h9.8M1480.5 1525.9h9.8M1480.5 1506.7h9.8M1505.6 1701.6v8.8M1533.1 1701.6v8.8M1560.6 1701.6v8.8M1588.1 1701.6v8.8M1615.6 1701.6v8.8M1643.1 1701.6v8.8M1670.6 1701.6v8.8" stroke="#000" stroke-width="2.2" fill="none"/>
<g class="t" text-anchor="end"><text x="1471.6" y="1513.5">100</text><text x="1471.6" y="1609.6">50</text><text x="1471.6" y="1705.8">0</text></g>
<g class="t" text-anchor="middle"><text x="1505.6" y="1732.6">1</text><text x="1533.1" y="1732.6">2</text><text x="1560.6" y="1732.6">3</text><text x="1588.1" y="1732.6">4</text><text x="1615.6" y="1732.6">5</text><text x="1643.1" y="1732.6">6</text><text x="1670.6" y="1732.6">7</text></g>
</g>
<g>
<path d="M944.2 1653L906.3 1616" stroke="#000" stroke-width="2.2" fill="none"/>
<path d="M906.3 1598.7L923.6 1616L906.3 1633.3L889 1616Z" fill="#000"/>
<rect x="945.2" y="1654" width="190" height="192.3" fill="#eaeaf2" stroke="#fff" stroke-width="2"/>
<path d="M945.2 1827.1H1135.2M945.2 1807.8H1135.2M945.2 1788.6H1135.2M945.2 1769.4H1135.2M945.2 1730.9H1135.2M945.2 1711.7H1135.2M945.2 1692.5H1135.2M945.2 1673.2H1135.2" stroke="#fff" stroke-width="2.1" fill="none"/>
<path d="M946.2 1750.1H1134.2" stroke="#fff" stroke-width="2.6" fill="none"/>
<path d="M946.2 1750.1H1134.2" stroke="#a4a4a8" stroke-width="1.5" fill="none"/>
<rect x="946.7" y="1801.9" width="22" height="44.4" fill="#ec8a7f" stroke="#fff" stroke-width="1.5"/>
<rect x="974.2" y="1844" width="22" height="2.3" fill="#e7e770" stroke="#fff" stroke-width="1.5"/>
<rect x="1001.7" y="1835.9" width="22" height="10.4" fill="#e2e571" stroke="#fff" stroke-width="1.5"/>
<rect x="1029.2" y="1808.8" width="22" height="37.5" fill="#cedb72" stroke="#fff" stroke-width="1.5"/>
<rect x="1056.7" y="1829.4" width="22" height="16.9" fill="#dee472" stroke="#fff" stroke-width="1.5"/>
<rect x="1084.2" y="1771.3" width="22" height="75" fill="#b2cf70" stroke="#fff" stroke-width="1.5"/>
<rect x="1111.7" y="1842.8" width="22" height="3.5" fill="#e6e770" stroke="#fff" stroke-width="1.5"/>
<path d="M932.6 1846.3h9.8M932.6 1827.1h9.8M932.6 1807.8h9.8M932.6 1788.6h9.8M932.6 1769.4h9.8M932.6 1750.1h9.8M932.6 1730.9h9.8M932.6 1711.7h9.8M932.6 1692.5h9.8M932.6 1673.2h9.8M932.6 1654h9.8M957.7 1848.9v8.8M985.2 1848.9v8.8M1012.7 1848.9v8.8M1040.2 1848.9v8.8M1067.7 1848.9v8.8M1095.2 1848.9v8.8M1122.7 1848.9v8.8" stroke="#000" stroke-width="2.2" fill="none"/>
<g class="t" text-anchor="end"><text x="923.7" y="1660.8">100</text><text x="923.7" y="1756.9">50</text><text x="923.7" y="1853.1">0</text></g>
<g class="t" text-anchor="middle"><text x="957.7" y="1879.9">1</text><text x="985.2" y="1879.9">2</text><text x="1012.7" y="1879.9">3</text><text x="1040.2" y="1879.9">4</text><text x="1067.7" y="1879.9">5</text><text x="1095.2" y="1879.9">6</text><text x="1122.7" y="1879.9">7</text></g>
</g>
<g>
<path d="M395.7 1781.8L357.8 1744.8" stroke="#000" stroke-width="2.2" fill="none"/>
<path d="M357.8 1727.5L375.1 1744.8L357.8 1762.1L340.5 1744.8Z" fill="#000"/>
<rect x="396.7" y="1782.8" width="190" height="192.3" fill="#eaeaf2" stroke="#fff" stroke-width="2"/>
<path d="M396.7 1955.9H586.7M396.7 1936.6H586.7M396.7 1917.4H586.7M396.7 1898.2H586.7M396.7 1859.7H586.7M396.7 1840.5H586.7M396.7 1821.3H586.7M396.7 1802H586.7" stroke="#fff" stroke-width="2.1" fill="none"/>
<path d="M397.7 1878.9H585.7" stroke="#fff" stroke-width="2.6" fill="none"/>
<path d="M397.7 1878.9H585.7" stroke="#a4a4a8" stroke-width="1.5" fill="none"/>
<rect x="398.2" y="1851.8" width="22" height="123.3" fill="#ec8a7f" stroke="#fff" stroke-width="1.5"/>
<rect x="425.7" y="1894.5" width="22" height="80.6" fill="#adcc70" stroke="#fff" stroke-width="1.5"/>
<rect x="453.2" y="1887.6" width="22" height="87.5" fill="#a7ca6f" stroke="#fff" stroke-width="1.5"/>
<rect x="480.7" y="1886.4" width="22" height="88.7" fill="#a6c96f" stroke="#fff" stroke-width="1.5"/>
<rect x="508.2" y="1927.6" width="22" height="47.5" fill="#c6d872" stroke="#fff" stroke-width="1.5"/>
<rect x="535.7" y="1862.8" width="22" height="112.3" fill="#94bf6e" stroke="#fff" stroke-width="1.5"/>
<rect x="563.2" y="1893" width="22" height="82.1" fill="#accc70" stroke="#fff" stroke-width="1.5"/>
<path d="M384.1 1975.1h9.8M384.1 1955.9h9.8M384.1 1936.6h9.8M384.1 1917.4h9.8M384.1 1898.2h9.8M384.1 1878.9h9.8M384.1 1859.7h9.8M384.1 1840.5h9.8M384.1 1821.3h9.8M384.1 1802h9.8M384.1 1782.8h9.8M409.2 1977.7v8.8M436.7 1977.7v8.8M464.2 1977.7v8.8M491.7 1977.7v8.8M519.2 1977.7v8.8M546.7 1977.7v8.8M574.2 1977.7v8.8" stroke="#000" stroke-width="2.2" fill="none"/>
<g class="t" text-anchor="end"><text x="375.2" y="1789.6">100</text><text x="375.2" y="1885.7">50</text><text x="375.2" y="1981.9">0</text></g>
<g class="t" text-anchor="middle"><text x="409.2" y="2008.7">1</text><text x="436.7" y="2008.7">2</text><text x="464.2" y="2008.7">3</text><text x="491.7" y="2008.7">4</text><text x="519.2" y="2008.7">5</text><text x="546.7" y="2008.7">6</text><text x="574.2" y="2008.7">7</text></g>
</g>
</g>
</svg></body></html>
